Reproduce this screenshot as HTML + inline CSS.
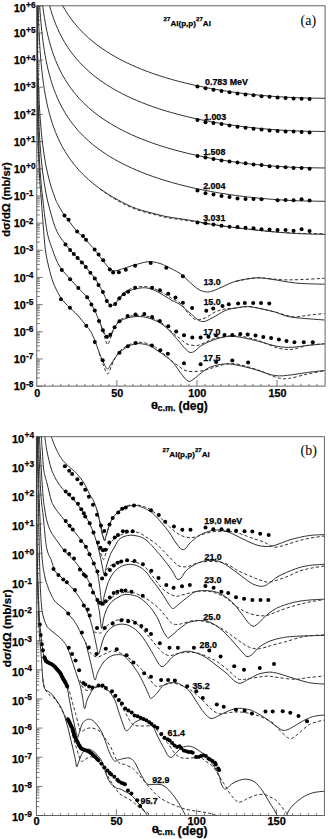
<!DOCTYPE html><html><head><meta charset="utf-8"><style>html,body{margin:0;padding:0;background:#fff;}svg{display:block;}</style></head><body>
<svg width="328" height="839" viewBox="0 0 328 839" font-family='"Liberation Sans", sans-serif'>
<style>text{stroke:#000;stroke-width:0.25px;paint-order:fill}</style>
<defs>
<clipPath id="ca"><rect x="36.8" y="5.8" width="288.3" height="380.3"/></clipPath>
<clipPath id="cb"><rect x="36.4" y="436.7" width="288.0" height="378.8"/></clipPath>
</defs>
<rect width="328" height="839" fill="#fff"/>
<rect x="36.8" y="5.8" width="288.30" height="380.30" fill="none" stroke="#555" stroke-width="0.9"/>
<path d="M36.80,5.80h6 M36.80,24.79h3 M36.80,20.00h3 M36.80,16.61h3 M36.80,13.98h3 M36.80,11.83h3 M36.80,10.01h3 M36.80,8.43h3 M36.80,7.04h3 M36.80,32.96h6 M36.80,51.95h3 M36.80,47.17h3 M36.80,43.77h3 M36.80,41.14h3 M36.80,38.99h3 M36.80,37.17h3 M36.80,35.60h3 M36.80,34.21h3 M36.80,60.13h6 M36.80,79.12h3 M36.80,74.33h3 M36.80,70.94h3 M36.80,68.31h3 M36.80,66.15h3 M36.80,64.34h3 M36.80,62.76h3 M36.80,61.37h3 M36.80,87.29h6 M36.80,106.28h3 M36.80,101.50h3 M36.80,98.10h3 M36.80,95.47h3 M36.80,93.32h3 M36.80,91.50h3 M36.80,89.93h3 M36.80,88.54h3 M36.80,114.46h6 M36.80,133.44h3 M36.80,128.66h3 M36.80,125.27h3 M36.80,122.63h3 M36.80,120.48h3 M36.80,118.66h3 M36.80,117.09h3 M36.80,115.70h3 M36.80,141.62h6 M36.80,160.61h3 M36.80,155.83h3 M36.80,152.43h3 M36.80,149.80h3 M36.80,147.65h3 M36.80,145.83h3 M36.80,144.25h3 M36.80,142.86h3 M36.80,168.79h6 M36.80,187.77h3 M36.80,182.99h3 M36.80,179.60h3 M36.80,176.96h3 M36.80,174.81h3 M36.80,172.99h3 M36.80,171.42h3 M36.80,170.03h3 M36.80,195.95h6 M36.80,214.94h3 M36.80,210.15h3 M36.80,206.76h3 M36.80,204.13h3 M36.80,201.98h3 M36.80,200.16h3 M36.80,198.58h3 M36.80,197.19h3 M36.80,223.11h6 M36.80,242.10h3 M36.80,237.32h3 M36.80,233.92h3 M36.80,231.29h3 M36.80,229.14h3 M36.80,227.32h3 M36.80,225.75h3 M36.80,224.36h3 M36.80,250.28h6 M36.80,269.27h3 M36.80,264.48h3 M36.80,261.09h3 M36.80,258.46h3 M36.80,256.30h3 M36.80,254.49h3 M36.80,252.91h3 M36.80,251.52h3 M36.80,277.44h6 M36.80,296.43h3 M36.80,291.65h3 M36.80,288.25h3 M36.80,285.62h3 M36.80,283.47h3 M36.80,281.65h3 M36.80,280.08h3 M36.80,278.69h3 M36.80,304.61h6 M36.80,323.59h3 M36.80,318.81h3 M36.80,315.42h3 M36.80,312.78h3 M36.80,310.63h3 M36.80,308.81h3 M36.80,307.24h3 M36.80,305.85h3 M36.80,331.77h6 M36.80,350.76h3 M36.80,345.98h3 M36.80,342.58h3 M36.80,339.95h3 M36.80,337.80h3 M36.80,335.98h3 M36.80,334.40h3 M36.80,333.01h3 M36.80,358.94h6 M36.80,377.92h3 M36.80,373.14h3 M36.80,369.75h3 M36.80,367.11h3 M36.80,364.96h3 M36.80,363.14h3 M36.80,361.57h3 M36.80,360.18h3 M36.80,386.10h6 M44.81,386.10v-2.3 M52.82,386.10v-2.3 M60.83,386.10v-2.3 M68.83,386.10v-2.3 M76.84,386.10v-2.3 M84.85,386.10v-2.3 M92.86,386.10v-2.3 M100.87,386.10v-2.3 M108.88,386.10v-2.3 M116.88,386.10v-6 M124.89,386.10v-2.3 M132.90,386.10v-2.3 M140.91,386.10v-2.3 M148.92,386.10v-2.3 M156.93,386.10v-2.3 M164.93,386.10v-2.3 M172.94,386.10v-2.3 M180.95,386.10v-2.3 M188.96,386.10v-2.3 M196.97,386.10v-6 M204.98,386.10v-2.3 M212.98,386.10v-2.3 M220.99,386.10v-2.3 M229.00,386.10v-2.3 M237.01,386.10v-2.3 M245.02,386.10v-2.3 M253.03,386.10v-2.3 M261.03,386.10v-2.3 M269.04,386.10v-2.3 M277.05,386.10v-6 M285.06,386.10v-2.3 M293.07,386.10v-2.3 M301.08,386.10v-2.3 M309.08,386.10v-2.3 M317.09,386.10v-2.3 " stroke="#555" stroke-width="0.8" fill="none"/>
<text x="25.80" y="11.90" text-anchor="end" font-size="10.9" font-weight="bold">10</text>
<text x="26.10" y="8.00" font-size="8.3" font-weight="bold">+6</text>
<text x="25.80" y="37.16" text-anchor="end" font-size="10.9" font-weight="bold">10</text>
<text x="26.10" y="33.46" font-size="8.3" font-weight="bold">+5</text>
<text x="25.80" y="64.33" text-anchor="end" font-size="10.9" font-weight="bold">10</text>
<text x="26.10" y="60.63" font-size="8.3" font-weight="bold">+4</text>
<text x="25.80" y="91.49" text-anchor="end" font-size="10.9" font-weight="bold">10</text>
<text x="26.10" y="87.79" font-size="8.3" font-weight="bold">+3</text>
<text x="25.80" y="118.66" text-anchor="end" font-size="10.9" font-weight="bold">10</text>
<text x="26.10" y="114.96" font-size="8.3" font-weight="bold">+2</text>
<text x="25.80" y="145.82" text-anchor="end" font-size="10.9" font-weight="bold">10</text>
<text x="26.10" y="142.12" font-size="8.3" font-weight="bold">+1</text>
<text x="25.80" y="172.99" text-anchor="end" font-size="10.9" font-weight="bold">10</text>
<text x="26.10" y="169.29" font-size="8.3" font-weight="bold">+0</text>
<text x="25.80" y="200.15" text-anchor="end" font-size="10.9" font-weight="bold">10</text>
<text x="26.10" y="196.45" font-size="8.3" font-weight="bold">-1</text>
<text x="25.80" y="227.31" text-anchor="end" font-size="10.9" font-weight="bold">10</text>
<text x="26.10" y="223.61" font-size="8.3" font-weight="bold">-2</text>
<text x="25.80" y="254.48" text-anchor="end" font-size="10.9" font-weight="bold">10</text>
<text x="26.10" y="250.78" font-size="8.3" font-weight="bold">-3</text>
<text x="25.80" y="281.64" text-anchor="end" font-size="10.9" font-weight="bold">10</text>
<text x="26.10" y="277.94" font-size="8.3" font-weight="bold">-4</text>
<text x="25.80" y="308.81" text-anchor="end" font-size="10.9" font-weight="bold">10</text>
<text x="26.10" y="305.11" font-size="8.3" font-weight="bold">-5</text>
<text x="25.80" y="335.97" text-anchor="end" font-size="10.9" font-weight="bold">10</text>
<text x="26.10" y="332.27" font-size="8.3" font-weight="bold">-6</text>
<text x="25.80" y="363.14" text-anchor="end" font-size="10.9" font-weight="bold">10</text>
<text x="26.10" y="359.44" font-size="8.3" font-weight="bold">-7</text>
<text x="25.80" y="390.30" text-anchor="end" font-size="10.9" font-weight="bold">10</text>
<text x="26.10" y="386.60" font-size="8.3" font-weight="bold">-8</text>
<text x="37.20" y="397.2" text-anchor="middle" font-size="10.8" font-weight="bold">0</text>
<text x="117.28" y="397.2" text-anchor="middle" font-size="10.8" font-weight="bold">50</text>
<text x="197.37" y="397.2" text-anchor="middle" font-size="10.8" font-weight="bold">100</text>
<text x="277.45" y="397.2" text-anchor="middle" font-size="10.8" font-weight="bold">150</text>
<text transform="translate(151.1,408.6) scale(1.38,1)" font-size="9.4" font-weight="bold">θ</text><text x="157.4" y="411.2" font-size="9" font-weight="bold">c.m.</text><text x="178.4" y="410.1" font-size="12" font-weight="bold">(deg)</text>
<text transform="translate(10.4,199.5) rotate(-90)" text-anchor="middle" font-size="11.2" font-weight="bold">dσ/dΩ (mb/sr)</text>
<text x="163.6" y="25.6" font-size="8.1" font-weight="bold"><tspan font-size="6.1" dy="-4.4">27</tspan><tspan dy="4.4">Al(p,p)</tspan><tspan font-size="6.1" dy="-4.4">27</tspan><tspan dy="4.4">Al</tspan></text>
<text x="300.5" y="24.6" font-family='"Liberation Serif", serif' font-size="14" style="stroke:none">(a)</text>
<path d="M36.83,-310.05 C36.83,-309.25 36.83,-306.86 36.84,-305.27 C36.84,-303.68 36.84,-302.09 36.84,-300.50 C36.84,-298.91 36.84,-297.32 36.84,-295.72 C36.84,-294.13 36.85,-292.54 36.85,-290.95 C36.85,-289.36 36.85,-287.77 36.85,-286.18 C36.85,-284.59 36.86,-282.99 36.86,-281.40 C36.86,-279.81 36.86,-278.22 36.87,-276.63 C36.87,-275.04 36.87,-273.45 36.87,-271.86 C36.87,-270.26 36.88,-268.67 36.88,-267.08 C36.88,-265.49 36.89,-263.90 36.89,-262.31 C36.89,-260.72 36.89,-259.12 36.90,-257.53 C36.90,-255.94 36.90,-254.35 36.91,-252.76 C36.91,-251.17 36.92,-249.58 36.92,-247.99 C36.92,-246.39 36.93,-244.80 36.93,-243.21 C36.94,-241.62 36.94,-240.03 36.95,-238.44 C36.95,-236.85 36.96,-235.25 36.96,-233.66 C36.97,-232.07 36.97,-230.48 36.98,-228.89 C36.98,-227.30 36.99,-225.71 37.00,-224.12 C37.00,-222.52 37.01,-220.93 37.02,-219.34 C37.03,-217.75 37.03,-216.16 37.04,-214.57 C37.05,-212.98 37.06,-211.38 37.07,-209.79 C37.08,-208.20 37.09,-206.61 37.10,-205.02 C37.11,-203.43 37.12,-201.84 37.13,-200.25 C37.14,-198.65 37.15,-197.06 37.16,-195.47 C37.18,-193.88 37.19,-192.29 37.20,-190.70 C37.22,-189.11 37.23,-187.52 37.24,-185.92 C37.26,-184.33 37.28,-182.74 37.29,-181.15 C37.31,-179.56 37.33,-177.97 37.34,-176.38 C37.36,-174.78 37.38,-173.19 37.40,-171.60 C37.42,-170.01 37.44,-168.42 37.47,-166.83 C37.49,-165.24 37.51,-163.65 37.54,-162.05 C37.56,-160.46 37.59,-158.87 37.62,-157.28 C37.64,-155.69 37.67,-154.10 37.70,-152.51 C37.73,-150.91 37.76,-149.32 37.80,-147.73 C37.83,-146.14 37.87,-144.55 37.91,-142.96 C37.94,-141.37 37.98,-139.78 38.02,-138.18 C38.06,-136.59 38.11,-135.00 38.15,-133.41 C38.20,-131.82 38.25,-130.23 38.30,-128.64 C38.35,-127.05 38.40,-125.45 38.46,-123.86 C38.51,-122.27 38.57,-120.68 38.63,-119.09 C38.69,-117.50 38.76,-115.91 38.83,-114.32 C38.90,-112.72 38.97,-111.13 39.04,-109.54 C39.12,-107.95 39.20,-106.36 39.28,-104.77 C39.37,-103.18 39.45,-101.59 39.55,-99.99 C39.64,-98.40 39.74,-96.81 39.84,-95.22 C39.94,-93.63 40.05,-92.04 40.16,-90.45 C40.28,-88.86 40.39,-87.26 40.52,-85.67 C40.65,-84.08 40.78,-82.49 40.92,-80.90 C41.06,-79.31 41.20,-77.72 41.35,-76.13 C41.51,-74.54 41.67,-72.95 41.84,-71.35 C42.01,-69.76 42.19,-68.17 42.38,-66.58 C42.56,-64.99 42.76,-63.40 42.97,-61.81 C43.18,-60.22 43.40,-58.63 43.63,-57.04 C43.86,-55.45 44.10,-53.86 44.35,-52.27 C44.61,-50.68 44.88,-49.09 45.16,-47.50 C45.44,-45.90 45.74,-44.31 46.05,-42.72 C46.36,-41.13 46.69,-39.55 47.03,-37.96 C47.38,-36.37 47.74,-34.78 48.12,-33.19 C48.50,-31.60 48.90,-30.01 49.33,-28.42 C49.75,-26.83 50.19,-25.24 50.66,-23.65 C51.13,-22.07 51.62,-20.48 52.14,-18.89 C52.65,-17.30 53.20,-15.72 53.77,-14.13 C54.34,-12.54 54.94,-10.96 55.57,-9.37 C56.21,-7.78 56.87,-6.20 57.57,-4.61 C58.28,-3.03 59.01,-1.45 59.78,0.14 C60.56,1.72 61.37,3.30 62.23,4.88 C63.09,6.46 63.99,8.04 64.94,9.62 C65.89,11.20 66.88,12.78 67.94,14.36 C68.99,15.93 70.09,17.51 71.25,19.08 C72.41,20.65 73.63,22.22 74.92,23.79 C76.21,25.36 77.55,26.93 78.98,28.49 C80.40,30.05 81.89,31.61 83.47,33.17 C85.04,34.73 86.69,36.28 88.43,37.83 C90.18,39.38 92.00,40.92 93.93,42.46 C95.86,44.00 97.88,45.54 100.01,47.06 C102.15,48.59 104.38,50.11 106.74,51.63 C109.10,53.14 111.57,54.65 114.19,56.14 C116.80,57.64 119.53,59.12 122.43,60.60 C125.32,62.07 128.34,63.54 131.54,64.98 C134.74,66.43 138.09,67.86 141.63,69.28 C145.17,70.69 148.87,72.09 152.79,73.46 C156.71,74.83 160.80,76.19 165.14,77.51 C169.47,78.83 174.00,80.13 178.80,81.39 C183.60,82.64 188.61,83.88 193.92,85.05 C199.23,86.23 204.77,87.38 210.65,88.46 C216.52,89.54 222.66,90.58 229.15,91.54 C235.65,92.49 242.44,93.40 249.63,94.19 C256.82,94.99 264.34,95.72 272.29,96.32 C280.24,96.91 288.56,97.43 297.36,97.76 C306.16,98.09 320.48,98.21 325.10,98.30" fill="none" stroke="#303030" stroke-width="1.0" clip-path="url(#ca)"/>
<path d="M36.83,-276.85 C36.83,-276.05 36.83,-273.66 36.84,-272.07 C36.84,-270.48 36.84,-268.89 36.84,-267.30 C36.84,-265.71 36.84,-264.12 36.84,-262.52 C36.84,-260.93 36.85,-259.34 36.85,-257.75 C36.85,-256.16 36.85,-254.57 36.85,-252.98 C36.85,-251.39 36.86,-249.79 36.86,-248.20 C36.86,-246.61 36.86,-245.02 36.87,-243.43 C36.87,-241.84 36.87,-240.25 36.87,-238.66 C36.87,-237.06 36.88,-235.47 36.88,-233.88 C36.88,-232.29 36.89,-230.70 36.89,-229.11 C36.89,-227.52 36.89,-225.92 36.90,-224.33 C36.90,-222.74 36.90,-221.15 36.91,-219.56 C36.91,-217.97 36.92,-216.38 36.92,-214.79 C36.92,-213.19 36.93,-211.60 36.93,-210.01 C36.94,-208.42 36.94,-206.83 36.95,-205.24 C36.95,-203.65 36.96,-202.05 36.96,-200.46 C36.97,-198.87 36.97,-197.28 36.98,-195.69 C36.98,-194.10 36.99,-192.51 37.00,-190.92 C37.00,-189.32 37.01,-187.73 37.02,-186.14 C37.03,-184.55 37.03,-182.96 37.04,-181.37 C37.05,-179.78 37.06,-178.18 37.07,-176.59 C37.08,-175.00 37.09,-173.41 37.10,-171.82 C37.11,-170.23 37.12,-168.64 37.13,-167.05 C37.14,-165.45 37.15,-163.86 37.16,-162.27 C37.18,-160.68 37.19,-159.09 37.20,-157.50 C37.22,-155.91 37.23,-154.32 37.24,-152.72 C37.26,-151.13 37.28,-149.54 37.29,-147.95 C37.31,-146.36 37.33,-144.77 37.34,-143.18 C37.36,-141.58 37.38,-139.99 37.40,-138.40 C37.42,-136.81 37.44,-135.22 37.47,-133.63 C37.49,-132.04 37.51,-130.45 37.54,-128.85 C37.56,-127.26 37.59,-125.67 37.62,-124.08 C37.64,-122.49 37.67,-120.90 37.70,-119.31 C37.73,-117.71 37.76,-116.12 37.80,-114.53 C37.83,-112.94 37.87,-111.35 37.91,-109.76 C37.94,-108.17 37.98,-106.58 38.02,-104.98 C38.06,-103.39 38.11,-101.80 38.15,-100.21 C38.20,-98.62 38.25,-97.03 38.30,-95.44 C38.35,-93.85 38.40,-92.25 38.46,-90.66 C38.51,-89.07 38.57,-87.48 38.63,-85.89 C38.69,-84.30 38.76,-82.71 38.83,-81.12 C38.90,-79.52 38.97,-77.93 39.04,-76.34 C39.12,-74.75 39.20,-73.16 39.28,-71.57 C39.37,-69.98 39.45,-68.39 39.55,-66.79 C39.64,-65.20 39.74,-63.61 39.84,-62.02 C39.94,-60.43 40.05,-58.84 40.16,-57.25 C40.28,-55.66 40.39,-54.06 40.52,-52.47 C40.65,-50.88 40.78,-49.29 40.92,-47.70 C41.06,-46.11 41.20,-44.52 41.35,-42.93 C41.51,-41.34 41.67,-39.75 41.84,-38.15 C42.01,-36.56 42.19,-34.97 42.38,-33.38 C42.56,-31.79 42.76,-30.20 42.97,-28.61 C43.18,-27.02 43.40,-25.43 43.63,-23.84 C43.86,-22.25 44.10,-20.66 44.35,-19.07 C44.61,-17.48 44.88,-15.89 45.16,-14.30 C45.44,-12.70 45.74,-11.11 46.05,-9.52 C46.36,-7.93 46.69,-6.35 47.03,-4.76 C47.38,-3.17 47.74,-1.58 48.12,0.01 C48.50,1.60 48.90,3.19 49.33,4.78 C49.75,6.37 50.19,7.96 50.66,9.55 C51.13,11.13 51.62,12.72 52.14,14.31 C52.65,15.90 53.20,17.48 53.77,19.07 C54.34,20.66 54.94,22.24 55.57,23.83 C56.21,25.42 56.87,27.00 57.57,28.59 C58.28,30.17 59.01,31.75 59.78,33.34 C60.56,34.92 61.37,36.50 62.23,38.08 C63.09,39.66 63.99,41.24 64.94,42.82 C65.89,44.40 66.88,45.98 67.94,47.56 C68.99,49.13 70.09,50.71 71.25,52.28 C72.41,53.85 73.63,55.42 74.92,56.99 C76.21,58.56 77.55,60.13 78.98,61.69 C80.40,63.25 81.89,64.81 83.47,66.37 C85.04,67.93 86.69,69.48 88.43,71.03 C90.18,72.58 92.00,74.12 93.93,75.66 C95.86,77.20 97.88,78.74 100.01,80.26 C102.15,81.79 104.38,83.31 106.74,84.83 C109.10,86.34 111.57,87.85 114.19,89.34 C116.80,90.84 119.53,92.32 122.43,93.80 C125.32,95.27 128.34,96.74 131.54,98.18 C134.74,99.63 138.09,101.06 141.63,102.48 C145.17,103.89 148.87,105.29 152.79,106.66 C156.71,108.03 160.80,109.39 165.14,110.71 C169.47,112.03 174.00,113.33 178.80,114.59 C183.60,115.84 188.61,117.08 193.92,118.25 C199.23,119.43 204.77,120.58 210.65,121.66 C216.52,122.74 222.66,123.78 229.15,124.74 C235.65,125.69 242.44,126.60 249.63,127.39 C256.82,128.19 264.34,128.92 272.29,129.52 C280.24,130.11 288.56,130.63 297.36,130.96 C306.16,131.29 320.48,131.41 325.10,131.50" fill="none" stroke="#303030" stroke-width="1.0" clip-path="url(#ca)"/>
<path d="M36.83,-240.35 C36.83,-239.55 36.83,-237.16 36.84,-235.57 C36.84,-233.98 36.84,-232.39 36.84,-230.80 C36.84,-229.21 36.84,-227.62 36.84,-226.02 C36.84,-224.43 36.85,-222.84 36.85,-221.25 C36.85,-219.66 36.85,-218.07 36.85,-216.48 C36.85,-214.89 36.86,-213.29 36.86,-211.70 C36.86,-210.11 36.86,-208.52 36.87,-206.93 C36.87,-205.34 36.87,-203.75 36.87,-202.16 C36.87,-200.56 36.88,-198.97 36.88,-197.38 C36.88,-195.79 36.89,-194.20 36.89,-192.61 C36.89,-191.02 36.89,-189.42 36.90,-187.83 C36.90,-186.24 36.90,-184.65 36.91,-183.06 C36.91,-181.47 36.92,-179.88 36.92,-178.29 C36.92,-176.69 36.93,-175.10 36.93,-173.51 C36.94,-171.92 36.94,-170.33 36.95,-168.74 C36.95,-167.15 36.96,-165.55 36.96,-163.96 C36.97,-162.37 36.97,-160.78 36.98,-159.19 C36.98,-157.60 36.99,-156.01 37.00,-154.42 C37.00,-152.82 37.01,-151.23 37.02,-149.64 C37.03,-148.05 37.03,-146.46 37.04,-144.87 C37.05,-143.28 37.06,-141.68 37.07,-140.09 C37.08,-138.50 37.09,-136.91 37.10,-135.32 C37.11,-133.73 37.12,-132.14 37.13,-130.55 C37.14,-128.95 37.15,-127.36 37.16,-125.77 C37.18,-124.18 37.19,-122.59 37.20,-121.00 C37.22,-119.41 37.23,-117.82 37.24,-116.22 C37.26,-114.63 37.28,-113.04 37.29,-111.45 C37.31,-109.86 37.33,-108.27 37.34,-106.68 C37.36,-105.08 37.38,-103.49 37.40,-101.90 C37.42,-100.31 37.44,-98.72 37.47,-97.13 C37.49,-95.54 37.51,-93.95 37.54,-92.35 C37.56,-90.76 37.59,-89.17 37.62,-87.58 C37.64,-85.99 37.67,-84.40 37.70,-82.81 C37.73,-81.21 37.76,-79.62 37.80,-78.03 C37.83,-76.44 37.87,-74.85 37.91,-73.26 C37.94,-71.67 37.98,-70.08 38.02,-68.48 C38.06,-66.89 38.11,-65.30 38.15,-63.71 C38.20,-62.12 38.25,-60.53 38.30,-58.94 C38.35,-57.35 38.40,-55.75 38.46,-54.16 C38.51,-52.57 38.57,-50.98 38.63,-49.39 C38.69,-47.80 38.76,-46.21 38.83,-44.62 C38.90,-43.02 38.97,-41.43 39.04,-39.84 C39.12,-38.25 39.20,-36.66 39.28,-35.07 C39.37,-33.48 39.45,-31.89 39.55,-30.29 C39.64,-28.70 39.74,-27.11 39.84,-25.52 C39.94,-23.93 40.05,-22.34 40.16,-20.75 C40.28,-19.16 40.39,-17.56 40.52,-15.97 C40.65,-14.38 40.78,-12.79 40.92,-11.20 C41.06,-9.61 41.20,-8.02 41.35,-6.43 C41.51,-4.84 41.67,-3.25 41.84,-1.65 C42.01,-0.06 42.19,1.53 42.38,3.12 C42.56,4.71 42.76,6.30 42.97,7.89 C43.18,9.48 43.40,11.07 43.63,12.66 C43.86,14.25 44.10,15.84 44.35,17.43 C44.61,19.02 44.88,20.61 45.16,22.20 C45.44,23.80 45.74,25.39 46.05,26.98 C46.36,28.57 46.69,30.15 47.03,31.74 C47.38,33.33 47.74,34.92 48.12,36.51 C48.50,38.10 48.90,39.69 49.33,41.28 C49.75,42.87 50.19,44.46 50.66,46.05 C51.13,47.63 51.62,49.22 52.14,50.81 C52.65,52.40 53.20,53.98 53.77,55.57 C54.34,57.16 54.94,58.74 55.57,60.33 C56.21,61.92 56.87,63.50 57.57,65.09 C58.28,66.67 59.01,68.25 59.78,69.84 C60.56,71.42 61.37,73.00 62.23,74.58 C63.09,76.16 63.99,77.74 64.94,79.32 C65.89,80.90 66.88,82.48 67.94,84.06 C68.99,85.63 70.09,87.21 71.25,88.78 C72.41,90.35 73.63,91.92 74.92,93.49 C76.21,95.06 77.55,96.63 78.98,98.19 C80.40,99.75 81.89,101.31 83.47,102.87 C85.04,104.43 86.69,105.98 88.43,107.53 C90.18,109.08 92.00,110.62 93.93,112.16 C95.86,113.70 97.88,115.24 100.01,116.76 C102.15,118.29 104.38,119.81 106.74,121.33 C109.10,122.84 111.57,124.35 114.19,125.84 C116.80,127.34 119.53,128.82 122.43,130.30 C125.32,131.77 128.34,133.24 131.54,134.68 C134.74,136.13 138.09,137.56 141.63,138.98 C145.17,140.39 148.87,141.79 152.79,143.16 C156.71,144.53 160.80,145.89 165.14,147.21 C169.47,148.53 174.00,149.83 178.80,151.09 C183.60,152.34 188.61,153.58 193.92,154.75 C199.23,155.93 204.77,157.08 210.65,158.16 C216.52,159.24 222.66,160.28 229.15,161.24 C235.65,162.19 242.44,163.10 249.63,163.89 C256.82,164.69 264.34,165.42 272.29,166.02 C280.24,166.61 288.56,167.13 297.36,167.46 C306.16,167.79 320.48,167.91 325.10,168.00" fill="none" stroke="#303030" stroke-width="1.0" clip-path="url(#ca)"/>
<path d="M36.83,-207.05 C36.83,-206.25 36.83,-203.86 36.84,-202.27 C36.84,-200.68 36.84,-199.09 36.84,-197.50 C36.84,-195.91 36.84,-194.32 36.84,-192.72 C36.84,-191.13 36.85,-189.54 36.85,-187.95 C36.85,-186.36 36.85,-184.77 36.85,-183.18 C36.85,-181.59 36.86,-179.99 36.86,-178.40 C36.86,-176.81 36.86,-175.22 36.87,-173.63 C36.87,-172.04 36.87,-170.45 36.87,-168.86 C36.87,-167.26 36.88,-165.67 36.88,-164.08 C36.88,-162.49 36.89,-160.90 36.89,-159.31 C36.89,-157.72 36.89,-156.12 36.90,-154.53 C36.90,-152.94 36.90,-151.35 36.91,-149.76 C36.91,-148.17 36.92,-146.58 36.92,-144.99 C36.92,-143.39 36.93,-141.80 36.93,-140.21 C36.94,-138.62 36.94,-137.03 36.95,-135.44 C36.95,-133.85 36.96,-132.25 36.96,-130.66 C36.97,-129.07 36.97,-127.48 36.98,-125.89 C36.98,-124.30 36.99,-122.71 37.00,-121.12 C37.00,-119.52 37.01,-117.93 37.02,-116.34 C37.03,-114.75 37.03,-113.16 37.04,-111.57 C37.05,-109.98 37.06,-108.38 37.07,-106.79 C37.08,-105.20 37.09,-103.61 37.10,-102.02 C37.11,-100.43 37.12,-98.84 37.13,-97.25 C37.14,-95.65 37.15,-94.06 37.16,-92.47 C37.18,-90.88 37.19,-89.29 37.20,-87.70 C37.22,-86.11 37.23,-84.52 37.24,-82.92 C37.26,-81.33 37.28,-79.74 37.29,-78.15 C37.31,-76.56 37.33,-74.97 37.34,-73.38 C37.36,-71.78 37.38,-70.19 37.40,-68.60 C37.42,-67.01 37.44,-65.42 37.47,-63.83 C37.49,-62.24 37.51,-60.65 37.54,-59.05 C37.56,-57.46 37.59,-55.87 37.62,-54.28 C37.64,-52.69 37.67,-51.10 37.70,-49.51 C37.73,-47.91 37.76,-46.32 37.80,-44.73 C37.83,-43.14 37.87,-41.55 37.91,-39.96 C37.94,-38.37 37.98,-36.78 38.02,-35.18 C38.06,-33.59 38.11,-32.00 38.15,-30.41 C38.20,-28.82 38.25,-27.23 38.30,-25.64 C38.35,-24.05 38.40,-22.45 38.46,-20.86 C38.51,-19.27 38.57,-17.68 38.63,-16.09 C38.69,-14.50 38.76,-12.91 38.83,-11.32 C38.90,-9.72 38.97,-8.13 39.04,-6.54 C39.12,-4.95 39.20,-3.36 39.28,-1.77 C39.37,-0.18 39.45,1.41 39.55,3.01 C39.64,4.60 39.74,6.19 39.84,7.78 C39.94,9.37 40.05,10.96 40.16,12.55 C40.28,14.14 40.39,15.74 40.52,17.33 C40.65,18.92 40.78,20.51 40.92,22.10 C41.06,23.69 41.20,25.28 41.35,26.87 C41.51,28.46 41.67,30.05 41.84,31.65 C42.01,33.24 42.19,34.83 42.38,36.42 C42.56,38.01 42.76,39.60 42.97,41.19 C43.18,42.78 43.40,44.37 43.63,45.96 C43.86,47.55 44.10,49.14 44.35,50.73 C44.61,52.32 44.88,53.91 45.16,55.50 C45.44,57.10 45.74,58.69 46.05,60.28 C46.36,61.87 46.69,63.45 47.03,65.04 C47.38,66.63 47.74,68.22 48.12,69.81 C48.50,71.40 48.90,72.99 49.33,74.58 C49.75,76.17 50.19,77.76 50.66,79.35 C51.13,80.93 51.62,82.52 52.14,84.11 C52.65,85.70 53.20,87.28 53.77,88.87 C54.34,90.46 54.94,92.04 55.57,93.63 C56.21,95.22 56.87,96.80 57.57,98.39 C58.28,99.97 59.01,101.55 59.78,103.14 C60.56,104.72 61.37,106.30 62.23,107.88 C63.09,109.46 63.99,111.04 64.94,112.62 C65.89,114.20 66.88,115.78 67.94,117.36 C68.99,118.93 70.09,120.51 71.25,122.08 C72.41,123.65 73.63,125.22 74.92,126.79 C76.21,128.36 77.55,129.93 78.98,131.49 C80.40,133.05 81.89,134.61 83.47,136.17 C85.04,137.73 86.69,139.28 88.43,140.83 C90.18,142.38 92.00,143.92 93.93,145.46 C95.86,147.00 97.88,148.54 100.01,150.06 C102.15,151.59 104.38,153.11 106.74,154.63 C109.10,156.14 111.57,157.65 114.19,159.14 C116.80,160.64 119.53,162.12 122.43,163.60 C125.32,165.07 128.34,166.54 131.54,167.98 C134.74,169.43 138.09,170.86 141.63,172.28 C145.17,173.69 148.87,175.09 152.79,176.46 C156.71,177.83 160.80,179.19 165.14,180.51 C169.47,181.83 174.00,183.13 178.80,184.39 C183.60,185.64 188.61,186.88 193.92,188.05 C199.23,189.23 204.77,190.38 210.65,191.46 C216.52,192.54 222.66,193.58 229.15,194.54 C235.65,195.49 242.44,196.40 249.63,197.19 C256.82,197.99 264.34,198.72 272.29,199.32 C280.24,199.91 288.56,200.43 297.36,200.76 C306.16,201.09 320.48,201.21 325.10,201.30" fill="none" stroke="#303030" stroke-width="1.0" clip-path="url(#ca)"/>
<path d="M36.83,-168.35 C36.83,-167.55 36.83,-165.16 36.84,-163.57 C36.84,-161.98 36.84,-160.39 36.84,-158.80 C36.84,-157.21 36.84,-155.62 36.84,-154.02 C36.84,-152.43 36.85,-150.84 36.85,-149.25 C36.85,-147.66 36.85,-146.07 36.85,-144.48 C36.85,-142.89 36.86,-141.29 36.86,-139.70 C36.86,-138.11 36.86,-136.52 36.87,-134.93 C36.87,-133.34 36.87,-131.75 36.87,-130.16 C36.87,-128.56 36.88,-126.97 36.88,-125.38 C36.88,-123.79 36.89,-122.20 36.89,-120.61 C36.89,-119.02 36.89,-117.42 36.90,-115.83 C36.90,-114.24 36.90,-112.65 36.91,-111.06 C36.91,-109.47 36.92,-107.88 36.92,-106.29 C36.92,-104.69 36.93,-103.10 36.93,-101.51 C36.94,-99.92 36.94,-98.33 36.95,-96.74 C36.95,-95.15 36.96,-93.55 36.96,-91.96 C36.97,-90.37 36.97,-88.78 36.98,-87.19 C36.98,-85.60 36.99,-84.01 37.00,-82.42 C37.00,-80.82 37.01,-79.23 37.02,-77.64 C37.03,-76.05 37.03,-74.46 37.04,-72.87 C37.05,-71.28 37.06,-69.68 37.07,-68.09 C37.08,-66.50 37.09,-64.91 37.10,-63.32 C37.11,-61.73 37.12,-60.14 37.13,-58.55 C37.14,-56.95 37.15,-55.36 37.16,-53.77 C37.18,-52.18 37.19,-50.59 37.20,-49.00 C37.22,-47.41 37.23,-45.82 37.24,-44.22 C37.26,-42.63 37.28,-41.04 37.29,-39.45 C37.31,-37.86 37.33,-36.27 37.34,-34.68 C37.36,-33.08 37.38,-31.49 37.40,-29.90 C37.42,-28.31 37.44,-26.72 37.47,-25.13 C37.49,-23.54 37.51,-21.95 37.54,-20.35 C37.56,-18.76 37.59,-17.17 37.62,-15.58 C37.64,-13.99 37.67,-12.40 37.70,-10.81 C37.73,-9.21 37.76,-7.62 37.80,-6.03 C37.83,-4.44 37.87,-2.85 37.91,-1.26 C37.94,0.33 37.98,1.92 38.02,3.52 C38.06,5.11 38.11,6.70 38.15,8.29 C38.20,9.88 38.25,11.47 38.30,13.06 C38.35,14.65 38.40,16.25 38.46,17.84 C38.51,19.43 38.57,21.02 38.63,22.61 C38.69,24.20 38.76,25.79 38.83,27.38 C38.90,28.98 38.97,30.57 39.04,32.16 C39.12,33.75 39.20,35.34 39.28,36.93 C39.37,38.52 39.45,40.11 39.55,41.71 C39.64,43.30 39.74,44.89 39.84,46.48 C39.94,48.07 40.05,49.66 40.16,51.25 C40.28,52.84 40.39,54.44 40.52,56.03 C40.65,57.62 40.78,59.21 40.92,60.80 C41.06,62.39 41.20,63.98 41.35,65.57 C41.51,67.16 41.67,68.75 41.84,70.35 C42.01,71.94 42.19,73.53 42.38,75.12 C42.56,76.71 42.76,78.30 42.97,79.89 C43.18,81.48 43.40,83.07 43.63,84.66 C43.86,86.25 44.10,87.84 44.35,89.43 C44.61,91.02 44.88,92.61 45.16,94.20 C45.44,95.80 45.74,97.39 46.05,98.98 C46.36,100.57 46.69,102.15 47.03,103.74 C47.38,105.33 47.74,106.92 48.12,108.51 C48.50,110.10 48.90,111.69 49.33,113.28 C49.75,114.87 50.19,116.46 50.66,118.05 C51.13,119.63 51.62,121.22 52.14,122.81 C52.65,124.40 53.20,125.98 53.77,127.57 C54.34,129.16 54.94,130.74 55.57,132.33 C56.21,133.92 56.87,135.50 57.57,137.09 C58.28,138.67 59.01,140.25 59.78,141.84 C60.56,143.42 61.37,145.00 62.23,146.58 C63.09,148.16 63.99,149.74 64.94,151.32 C65.89,152.90 66.88,154.48 67.94,156.06 C68.99,157.63 70.09,159.21 71.25,160.78 C72.41,162.35 73.63,163.92 74.92,165.49 C76.21,167.06 77.55,168.63 78.98,170.19 C80.40,171.75 81.89,173.31 83.47,174.87 C85.04,176.43 86.69,177.98 88.43,179.53 C90.18,181.08 92.00,182.62 93.93,184.16 C95.86,185.70 97.88,187.24 100.01,188.76 C102.15,190.29 104.38,191.81 106.74,193.33 C109.10,194.84 111.57,196.35 114.19,197.84 C116.80,199.34 119.53,200.82 122.43,202.30 C125.32,203.77 128.34,205.35 131.54,206.68 C134.74,208.02 138.09,209.21 141.63,210.30 C145.17,211.39 148.87,212.22 152.79,213.23 C156.71,214.24 160.80,215.47 165.14,216.36 C169.47,217.24 174.00,217.78 178.80,218.54 C183.60,219.29 188.61,219.97 193.92,220.89 C199.23,221.80 204.77,223.06 210.65,224.04 C216.52,225.03 222.66,225.91 229.15,226.79 C235.65,227.66 242.44,228.49 249.63,229.30 C256.82,230.12 264.34,230.97 272.29,231.69 C280.24,232.40 288.56,233.13 297.36,233.58 C306.16,234.03 320.48,234.26 325.10,234.40" fill="none" stroke="#303030" stroke-width="1.0" clip-path="url(#ca)"/>
<path d="M100.01,189.03 C101.13,189.83 104.38,192.25 106.74,193.85 C109.10,195.45 111.57,197.08 114.19,198.64 C116.80,200.20 119.53,201.71 122.43,203.20 C125.32,204.69 128.34,206.25 131.54,207.58 C134.74,208.92 138.09,210.11 141.63,211.20 C145.17,212.29 148.87,213.12 152.79,214.13 C156.71,215.14 160.80,216.37 165.14,217.26 C169.47,218.14 174.00,218.72 178.80,219.44 C183.60,220.16 188.61,220.73 193.92,221.56 C199.23,222.39 204.77,223.52 210.65,224.42 C216.52,225.32 222.66,226.13 229.15,226.96 C235.65,227.79 242.44,228.61 249.63,229.40 C256.82,230.19 264.34,231.06 272.29,231.70 C280.24,232.35 288.56,232.95 297.36,233.29 C306.16,233.62 320.48,233.63 325.10,233.70" fill="none" stroke="#303030" stroke-width="1.0" stroke-dasharray="3.2,2.2" clip-path="url(#ca)"/>
<circle cx="197.47" cy="86.52" r="2.0"/>
<circle cx="205.48" cy="88.18" r="2.0"/>
<circle cx="213.48" cy="89.69" r="2.0"/>
<circle cx="221.49" cy="91.06" r="2.0"/>
<circle cx="229.50" cy="92.31" r="2.0"/>
<circle cx="237.51" cy="93.44" r="2.0"/>
<circle cx="245.52" cy="94.46" r="2.0"/>
<circle cx="253.53" cy="95.36" r="2.0"/>
<circle cx="261.53" cy="96.16" r="2.0"/>
<circle cx="269.54" cy="96.86" r="2.0"/>
<circle cx="277.55" cy="97.46" r="2.0"/>
<circle cx="285.56" cy="97.97" r="2.0"/>
<circle cx="293.57" cy="98.38" r="2.0"/>
<circle cx="301.58" cy="98.69" r="2.0"/>
<circle cx="309.58" cy="98.92" r="2.0"/>
<circle cx="197.47" cy="120.00" r="2.0"/>
<circle cx="205.48" cy="122.30" r="2.0"/>
<circle cx="213.48" cy="122.90" r="2.0"/>
<circle cx="221.49" cy="123.90" r="2.0"/>
<circle cx="229.50" cy="125.50" r="2.0"/>
<circle cx="237.51" cy="126.80" r="2.0"/>
<circle cx="245.52" cy="127.80" r="2.0"/>
<circle cx="253.53" cy="128.80" r="2.0"/>
<circle cx="261.53" cy="129.60" r="2.0"/>
<circle cx="269.54" cy="130.40" r="2.0"/>
<circle cx="277.55" cy="131.00" r="2.0"/>
<circle cx="285.56" cy="131.50" r="2.0"/>
<circle cx="293.57" cy="131.50" r="2.0"/>
<circle cx="301.58" cy="132.00" r="2.0"/>
<circle cx="309.58" cy="132.40" r="2.0"/>
<circle cx="197.47" cy="156.10" r="2.0"/>
<circle cx="205.48" cy="157.50" r="2.0"/>
<circle cx="213.48" cy="159.00" r="2.0"/>
<circle cx="221.49" cy="160.60" r="2.0"/>
<circle cx="229.50" cy="161.60" r="2.0"/>
<circle cx="237.51" cy="162.50" r="2.0"/>
<circle cx="245.52" cy="163.30" r="2.0"/>
<circle cx="253.53" cy="164.60" r="2.0"/>
<circle cx="261.53" cy="165.10" r="2.0"/>
<circle cx="269.54" cy="166.30" r="2.0"/>
<circle cx="277.55" cy="167.00" r="2.0"/>
<circle cx="285.56" cy="167.30" r="2.0"/>
<circle cx="293.57" cy="168.00" r="2.0"/>
<circle cx="301.58" cy="168.00" r="2.0"/>
<circle cx="309.58" cy="168.80" r="2.0"/>
<circle cx="197.47" cy="190.60" r="2.0"/>
<circle cx="205.48" cy="193.20" r="2.0"/>
<circle cx="213.48" cy="194.50" r="2.0"/>
<circle cx="221.49" cy="196.10" r="2.0"/>
<circle cx="229.50" cy="197.10" r="2.0"/>
<circle cx="237.51" cy="198.40" r="2.0"/>
<circle cx="245.52" cy="199.00" r="2.0"/>
<circle cx="253.53" cy="199.00" r="2.0"/>
<circle cx="261.53" cy="199.30" r="2.0"/>
<circle cx="277.55" cy="200.20" r="2.0"/>
<circle cx="285.56" cy="200.00" r="2.0"/>
<circle cx="293.57" cy="200.20" r="2.0"/>
<circle cx="301.58" cy="199.30" r="2.0"/>
<circle cx="309.58" cy="200.50" r="2.0"/>
<circle cx="197.47" cy="222.40" r="2.0"/>
<circle cx="205.48" cy="223.20" r="2.0"/>
<circle cx="213.48" cy="224.40" r="2.0"/>
<circle cx="221.49" cy="225.80" r="2.0"/>
<circle cx="229.50" cy="226.70" r="2.0"/>
<circle cx="237.51" cy="227.10" r="2.0"/>
<circle cx="245.52" cy="227.70" r="2.0"/>
<circle cx="253.53" cy="228.30" r="2.0"/>
<circle cx="261.53" cy="229.30" r="2.0"/>
<circle cx="269.54" cy="229.50" r="2.0"/>
<circle cx="277.55" cy="230.00" r="2.0"/>
<circle cx="285.56" cy="230.00" r="2.0"/>
<circle cx="293.57" cy="230.70" r="2.0"/>
<circle cx="301.58" cy="229.30" r="2.0"/>
<circle cx="309.58" cy="231.00" r="2.0"/>
<path d="M37.10,3.80 C37.11,6.14 37.16,13.15 37.20,17.82 C37.24,22.49 37.28,27.17 37.34,31.84 C37.39,36.51 37.45,41.19 37.52,45.86 C37.60,50.53 37.68,55.21 37.77,59.88 C37.87,64.55 37.98,69.23 38.11,73.90 C38.24,78.57 38.39,83.25 38.56,87.92 C38.74,92.59 38.94,97.27 39.17,101.94 C39.41,106.61 39.67,111.29 40.00,115.96 C40.32,120.63 40.67,125.31 41.10,129.98 C41.53,134.65 42.01,139.32 42.59,144.00 C43.17,148.67 43.81,153.34 44.59,158.01 C45.38,162.68 46.23,167.35 47.29,172.02 C48.34,176.69 49.50,181.35 50.92,186.02 C52.33,190.68 54.62,196.92 55.80,200.00 C56.98,203.08 56.60,201.97 58.00,204.50 C59.40,207.03 62.45,212.53 64.20,215.20 C65.95,217.87 66.37,217.80 68.50,220.50 C70.63,223.20 74.58,228.72 77.00,231.40 C79.42,234.08 81.50,235.17 83.00,236.60 C84.50,238.03 84.05,237.80 86.00,240.00 C87.95,242.20 92.60,247.30 94.70,249.80 C96.80,252.30 97.17,253.13 98.60,255.00 C100.03,256.87 101.73,259.00 103.30,261.00 C104.87,263.00 106.55,265.45 108.00,267.00 C109.45,268.55 110.67,269.67 112.00,270.30 C113.33,270.93 114.67,270.92 116.00,270.80 C117.33,270.68 118.67,270.02 120.00,269.60 C121.33,269.18 121.48,269.10 124.00,268.30 C126.52,267.50 130.90,265.92 135.10,264.80 C139.30,263.68 145.05,261.82 149.20,261.60 C153.35,261.38 157.15,262.73 160.00,263.50 C162.85,264.27 164.13,265.20 166.30,266.20 C168.47,267.20 170.72,268.28 173.00,269.50 C175.28,270.72 177.67,271.83 180.00,273.50 C182.33,275.17 184.67,277.42 187.00,279.50 C189.33,281.58 191.83,284.22 194.00,286.00 C196.17,287.78 197.78,289.20 200.00,290.20 C202.22,291.20 204.97,291.95 207.30,292.00 C209.63,292.05 211.55,291.33 214.00,290.50 C216.45,289.67 218.33,288.55 222.00,287.00 C225.67,285.45 230.42,282.72 236.00,281.20 C241.58,279.68 249.83,278.27 255.50,277.90 C261.17,277.53 265.08,278.40 270.00,279.00 C274.92,279.60 280.00,280.77 285.00,281.50 C290.00,282.23 293.40,282.95 300.00,283.40 C306.60,283.85 320.50,284.07 324.60,284.20" fill="none" stroke="#303030" stroke-width="1.0" clip-path="url(#ca)"/>
<path d="M236.00,281.20 C239.25,280.65 249.83,278.32 255.50,277.90 C261.17,277.48 265.45,278.38 270.00,278.70 C274.55,279.02 277.80,279.65 282.80,279.80 C287.80,279.95 293.03,279.85 300.00,279.60 C306.97,279.35 320.50,278.52 324.60,278.30" fill="none" stroke="#303030" stroke-width="1.0" stroke-dasharray="3.2,2.2" clip-path="url(#ca)"/>
<circle cx="64.50" cy="215.60" r="2.0"/>
<circle cx="68.60" cy="219.80" r="2.0"/>
<circle cx="77.10" cy="231.60" r="2.0"/>
<circle cx="83.00" cy="235.90" r="2.0"/>
<circle cx="86.00" cy="239.80" r="2.0"/>
<circle cx="94.60" cy="249.50" r="2.0"/>
<circle cx="98.60" cy="254.50" r="2.0"/>
<circle cx="103.20" cy="260.20" r="2.0"/>
<circle cx="109.80" cy="269.40" r="2.0"/>
<circle cx="113.10" cy="272.40" r="2.0"/>
<circle cx="118.90" cy="272.20" r="2.0"/>
<circle cx="125.80" cy="269.70" r="2.0"/>
<circle cx="135.10" cy="265.80" r="2.0"/>
<circle cx="150.70" cy="263.00" r="2.0"/>
<circle cx="166.30" cy="267.70" r="2.0"/>
<circle cx="182.90" cy="276.30" r="2.0"/>
<path d="M36.97,3.80 C36.98,6.14 37.00,13.14 37.02,17.82 C37.05,22.49 37.07,27.16 37.10,31.83 C37.13,36.50 37.16,41.18 37.20,45.85 C37.24,50.52 37.29,55.19 37.34,59.86 C37.40,64.54 37.46,69.21 37.53,73.88 C37.61,78.55 37.69,83.22 37.78,87.90 C37.88,92.57 37.99,97.24 38.13,101.91 C38.26,106.58 38.40,111.26 38.58,115.93 C38.76,120.60 38.96,125.27 39.20,129.94 C39.44,134.62 39.71,139.29 40.03,143.96 C40.36,148.63 40.71,153.30 41.15,157.97 C41.59,162.64 42.06,167.32 42.65,171.99 C43.24,176.66 43.88,181.33 44.68,186.00 C45.47,190.66 46.43,195.67 47.40,200.00 C48.37,204.33 49.40,208.00 50.50,212.00 C51.60,216.00 52.92,220.75 54.00,224.00 C55.08,227.25 56.00,229.37 57.00,231.50 C58.00,233.63 58.58,234.68 60.00,236.80 C61.42,238.92 63.82,242.02 65.50,244.20 C67.18,246.38 68.73,248.27 70.10,249.90 C71.47,251.53 72.45,252.67 73.70,254.00 C74.95,255.33 76.23,256.53 77.60,257.90 C78.97,259.27 80.53,260.67 81.90,262.20 C83.27,263.73 84.42,265.38 85.80,267.10 C87.18,268.82 88.65,270.58 90.20,272.50 C91.75,274.42 93.63,276.48 95.10,278.60 C96.57,280.72 97.70,282.92 99.00,285.20 C100.30,287.48 101.60,289.75 102.90,292.30 C104.20,294.85 105.62,298.38 106.80,300.50 C107.98,302.62 108.88,304.25 110.00,305.00 C111.12,305.75 112.17,305.75 113.50,305.00 C114.83,304.25 116.28,302.30 118.00,300.50 C119.72,298.70 122.12,295.68 123.80,294.20 C125.48,292.72 126.22,292.47 128.10,291.60 C129.98,290.73 132.23,289.63 135.10,289.00 C137.97,288.37 141.98,287.55 145.30,287.80 C148.62,288.05 151.75,289.13 155.00,290.50 C158.25,291.87 161.97,294.33 164.80,296.00 C167.63,297.67 169.47,299.08 172.00,300.50 C174.53,301.92 177.00,302.42 180.00,304.50 C183.00,306.58 186.42,310.17 190.00,313.00 C193.58,315.83 197.83,320.67 201.50,321.50 C205.17,322.33 208.10,319.80 212.00,318.00 C215.90,316.20 220.90,312.37 224.90,310.70 C228.90,309.03 232.20,308.68 236.00,308.00 C239.80,307.32 243.70,306.52 247.70,306.60 C251.70,306.68 255.45,307.60 260.00,308.50 C264.55,309.40 269.78,310.57 275.00,312.00 C280.22,313.43 283.03,315.77 291.30,317.10 C299.57,318.43 319.05,319.52 324.60,320.00" fill="none" stroke="#303030" stroke-width="1.0" clip-path="url(#ca)"/>
<path d="M113.50,305.00 C114.25,304.08 116.28,301.50 118.00,299.50 C119.72,297.50 122.12,294.58 123.80,293.00 C125.48,291.42 126.22,290.92 128.10,290.00 C129.98,289.08 132.23,288.08 135.10,287.50 C137.97,286.92 141.98,286.25 145.30,286.50 C148.62,286.75 151.75,287.75 155.00,289.00 C158.25,290.25 161.97,292.42 164.80,294.00 C167.63,295.58 169.47,297.00 172.00,298.50 C174.53,300.00 177.33,300.58 180.00,303.00 C182.67,305.42 185.40,310.25 188.00,313.00 C190.60,315.75 192.77,318.67 195.60,319.50 C198.43,320.33 201.77,319.25 205.00,318.00 C208.23,316.75 211.67,313.50 215.00,312.00 C218.33,310.50 221.50,309.67 225.00,309.00 C228.50,308.33 232.22,308.40 236.00,308.00 C239.78,307.60 243.70,306.52 247.70,306.60 C251.70,306.68 255.45,307.60 260.00,308.50 C264.55,309.40 269.45,310.63 275.00,312.00 C280.55,313.37 287.47,316.20 293.30,316.70 C299.13,317.20 304.78,315.53 310.00,315.00 C315.22,314.47 322.17,313.75 324.60,313.50" fill="none" stroke="#303030" stroke-width="1.0" stroke-dasharray="3.2,2.2" clip-path="url(#ca)"/>
<circle cx="65.50" cy="244.60" r="2.0"/>
<circle cx="70.10" cy="250.00" r="2.0"/>
<circle cx="73.80" cy="254.00" r="2.0"/>
<circle cx="77.60" cy="257.90" r="2.0"/>
<circle cx="81.90" cy="262.40" r="2.0"/>
<circle cx="85.80" cy="267.10" r="2.0"/>
<circle cx="90.40" cy="272.70" r="2.0"/>
<circle cx="94.80" cy="278.60" r="2.0"/>
<circle cx="98.50" cy="285.00" r="2.0"/>
<circle cx="102.90" cy="292.00" r="2.0"/>
<circle cx="106.80" cy="301.00" r="2.0"/>
<circle cx="110.30" cy="305.50" r="2.0"/>
<circle cx="115.20" cy="303.90" r="2.0"/>
<circle cx="119.40" cy="298.20" r="2.0"/>
<circle cx="123.80" cy="294.20" r="2.0"/>
<circle cx="128.10" cy="291.70" r="2.0"/>
<circle cx="135.10" cy="287.80" r="2.0"/>
<circle cx="152.10" cy="287.80" r="2.0"/>
<circle cx="159.90" cy="290.30" r="2.0"/>
<circle cx="168.30" cy="293.70" r="2.0"/>
<circle cx="175.50" cy="297.60" r="2.0"/>
<circle cx="182.90" cy="302.80" r="2.0"/>
<circle cx="192.10" cy="307.90" r="2.0"/>
<circle cx="206.30" cy="310.80" r="2.0"/>
<circle cx="213.20" cy="308.60" r="2.0"/>
<circle cx="222.50" cy="306.00" r="2.0"/>
<circle cx="228.80" cy="304.30" r="2.0"/>
<circle cx="238.10" cy="303.60" r="2.0"/>
<circle cx="244.80" cy="303.10" r="2.0"/>
<circle cx="253.20" cy="303.10" r="2.0"/>
<circle cx="261.00" cy="303.10" r="2.0"/>
<circle cx="269.30" cy="303.60" r="2.0"/>
<path d="M36.90,3.80 C36.90,6.14 36.92,13.14 36.93,17.81 C36.94,22.49 36.96,27.16 36.97,31.83 C36.99,36.50 37.01,41.17 37.03,45.84 C37.06,50.52 37.08,55.19 37.11,59.86 C37.14,64.53 37.18,69.20 37.22,73.87 C37.26,78.55 37.31,83.22 37.37,87.89 C37.42,92.56 37.49,97.23 37.56,101.90 C37.64,106.58 37.72,111.25 37.83,115.92 C37.93,120.59 38.04,125.26 38.18,129.93 C38.32,134.61 38.47,139.28 38.66,143.95 C38.85,148.62 39.05,153.29 39.30,157.96 C39.55,162.63 39.83,167.31 40.17,171.98 C40.51,176.65 40.88,181.32 41.33,185.99 C41.79,190.66 42.29,194.66 42.90,200.00 C43.51,205.34 44.15,212.00 45.00,218.00 C45.85,224.00 46.73,230.67 48.00,236.00 C49.27,241.33 51.10,245.75 52.60,250.00 C54.10,254.25 55.47,258.25 57.00,261.50 C58.53,264.75 59.62,266.58 61.80,269.50 C63.98,272.42 67.35,275.92 70.10,279.00 C72.85,282.08 75.47,284.97 78.30,288.00 C81.13,291.03 84.92,294.50 87.10,297.20 C89.28,299.90 90.12,301.98 91.40,304.20 C92.68,306.42 93.53,307.78 94.80,310.50 C96.07,313.22 97.65,317.28 99.00,320.50 C100.35,323.72 101.82,327.30 102.90,329.80 C103.98,332.30 104.68,334.13 105.50,335.50 C106.32,336.87 106.97,338.08 107.80,338.00 C108.63,337.92 109.37,336.75 110.50,335.00 C111.63,333.25 113.10,329.75 114.60,327.50 C116.10,325.25 117.63,323.00 119.50,321.50 C121.37,320.00 123.72,319.25 125.80,318.50 C127.88,317.75 129.73,317.33 132.00,317.00 C134.27,316.67 136.90,316.42 139.40,316.50 C141.90,316.58 144.40,316.85 147.00,317.50 C149.60,318.15 152.67,319.40 155.00,320.40 C157.33,321.40 159.05,322.23 161.00,323.50 C162.95,324.77 164.70,326.17 166.70,328.00 C168.70,329.83 170.78,332.08 173.00,334.50 C175.22,336.92 178.00,340.17 180.00,342.50 C182.00,344.83 183.33,346.85 185.00,348.50 C186.67,350.15 188.33,351.98 190.00,352.40 C191.67,352.82 193.22,352.07 195.00,351.00 C196.78,349.93 197.87,347.75 200.70,346.00 C203.53,344.25 208.12,342.00 212.00,340.50 C215.88,339.00 220.00,337.65 224.00,337.00 C228.00,336.35 230.75,336.02 236.00,336.60 C241.25,337.18 248.67,338.88 255.50,340.50 C262.33,342.12 270.93,345.17 277.00,346.30 C283.07,347.43 286.78,347.45 291.90,347.30 C297.02,347.15 302.25,345.98 307.70,345.40 C313.15,344.82 321.78,344.07 324.60,343.80" fill="none" stroke="#303030" stroke-width="1.0" clip-path="url(#ca)"/>
<path d="M99.00,320.50 C99.65,322.25 101.82,327.75 102.90,331.00 C103.98,334.25 104.68,337.73 105.50,340.00 C106.32,342.27 106.97,344.93 107.80,344.60 C108.63,344.27 109.37,340.85 110.50,338.00 C111.63,335.15 113.10,330.42 114.60,327.50 C116.10,324.58 117.63,322.22 119.50,320.50 C121.37,318.78 123.72,317.98 125.80,317.20 C127.88,316.42 129.73,316.12 132.00,315.80 C134.27,315.48 136.90,315.23 139.40,315.30 C141.90,315.37 144.40,315.58 147.00,316.20 C149.60,316.82 152.67,317.95 155.00,319.00 C157.33,320.05 159.05,321.17 161.00,322.50 C162.95,323.83 164.63,325.17 166.70,327.00 C168.77,328.83 171.18,331.58 173.40,333.50 C175.62,335.42 177.73,336.75 180.00,338.50 C182.27,340.25 184.20,342.83 187.00,344.00 C189.80,345.17 193.87,345.72 196.80,345.50 C199.73,345.28 201.57,343.87 204.60,342.70 C207.63,341.53 209.77,339.68 215.00,338.50 C220.23,337.32 229.33,335.43 236.00,335.60 C242.67,335.77 250.00,338.18 255.00,339.50 C260.00,340.82 262.02,342.03 266.00,343.50 C269.98,344.97 274.58,347.32 278.90,348.30 C283.22,349.28 287.10,349.88 291.90,349.40 C296.70,348.92 302.25,346.33 307.70,345.40 C313.15,344.47 321.78,344.07 324.60,343.80" fill="none" stroke="#303030" stroke-width="1.0" stroke-dasharray="3.2,2.2" clip-path="url(#ca)"/>
<circle cx="61.80" cy="269.90" r="2.0"/>
<circle cx="70.10" cy="279.30" r="2.0"/>
<circle cx="78.30" cy="288.00" r="2.0"/>
<circle cx="87.10" cy="297.20" r="2.0"/>
<circle cx="91.40" cy="304.40" r="2.0"/>
<circle cx="94.80" cy="310.50" r="2.0"/>
<circle cx="99.00" cy="321.00" r="2.0"/>
<circle cx="102.90" cy="330.20" r="2.0"/>
<circle cx="106.80" cy="336.70" r="2.0"/>
<circle cx="110.30" cy="334.70" r="2.0"/>
<circle cx="114.60" cy="327.30" r="2.0"/>
<circle cx="119.50" cy="321.20" r="2.0"/>
<circle cx="127.70" cy="316.10" r="2.0"/>
<circle cx="135.50" cy="314.50" r="2.0"/>
<circle cx="144.30" cy="314.10" r="2.0"/>
<circle cx="152.10" cy="317.10" r="2.0"/>
<circle cx="159.90" cy="321.00" r="2.0"/>
<circle cx="168.30" cy="326.20" r="2.0"/>
<circle cx="176.20" cy="331.50" r="2.0"/>
<circle cx="184.00" cy="335.20" r="2.0"/>
<circle cx="192.30" cy="337.50" r="2.0"/>
<circle cx="200.60" cy="337.50" r="2.0"/>
<circle cx="208.40" cy="336.70" r="2.0"/>
<circle cx="216.10" cy="335.50" r="2.0"/>
<circle cx="224.50" cy="335.10" r="2.0"/>
<circle cx="232.30" cy="335.10" r="2.0"/>
<circle cx="240.30" cy="334.00" r="2.0"/>
<circle cx="247.70" cy="334.60" r="2.0"/>
<circle cx="255.50" cy="335.60" r="2.0"/>
<circle cx="263.30" cy="337.00" r="2.0"/>
<circle cx="271.10" cy="338.10" r="2.0"/>
<circle cx="278.90" cy="339.60" r="2.0"/>
<circle cx="286.50" cy="341.00" r="2.0"/>
<circle cx="294.40" cy="342.30" r="2.0"/>
<circle cx="303.80" cy="342.20" r="2.0"/>
<circle cx="312.80" cy="342.20" r="2.0"/>
<path d="M36.87,3.80 C36.87,6.14 36.89,13.14 36.89,17.81 C36.90,22.49 36.91,27.16 36.93,31.83 C36.94,36.50 36.95,41.17 36.97,45.84 C36.99,50.52 37.01,55.19 37.03,59.86 C37.05,64.53 37.08,69.20 37.11,73.87 C37.14,78.54 37.18,83.22 37.22,87.89 C37.26,92.56 37.31,97.23 37.36,101.90 C37.42,106.57 37.48,111.25 37.56,115.92 C37.63,120.59 37.72,125.26 37.82,129.93 C37.92,134.60 38.03,139.27 38.17,143.95 C38.31,148.62 38.46,153.29 38.65,157.96 C38.83,162.63 39.03,167.30 39.28,171.97 C39.53,176.65 39.81,181.32 40.14,185.99 C40.48,190.66 40.79,193.50 41.30,200.00 C41.81,206.50 42.52,216.67 43.20,225.00 C43.88,233.33 44.43,242.83 45.40,250.00 C46.37,257.17 47.73,262.67 49.00,268.00 C50.27,273.33 51.67,278.17 53.00,282.00 C54.33,285.83 55.67,288.33 57.00,291.00 C58.33,293.67 59.67,296.00 61.00,298.00 C62.33,300.00 63.50,301.33 65.00,303.00 C66.50,304.67 68.33,306.42 70.00,308.00 C71.67,309.58 73.33,310.83 75.00,312.50 C76.67,314.17 78.12,315.78 80.00,318.00 C81.88,320.22 84.50,323.55 86.30,325.80 C88.10,328.05 89.35,328.97 90.80,331.50 C92.25,334.03 93.63,337.58 95.00,341.00 C96.37,344.42 97.62,348.50 99.00,352.00 C100.38,355.50 101.90,359.17 103.30,362.00 C104.70,364.83 106.10,368.67 107.40,369.00 C108.70,369.33 109.83,365.83 111.10,364.00 C112.37,362.17 113.67,359.83 115.00,358.00 C116.33,356.17 117.30,354.72 119.10,353.00 C120.90,351.28 123.07,349.23 125.80,347.70 C128.53,346.17 132.25,344.35 135.50,343.80 C138.75,343.25 142.55,343.87 145.30,344.40 C148.05,344.93 149.88,345.90 152.00,347.00 C154.12,348.10 155.67,349.42 158.00,351.00 C160.33,352.58 163.43,354.50 166.00,356.50 C168.57,358.50 170.90,360.17 173.40,363.00 C175.90,365.83 178.57,370.48 181.00,373.50 C183.43,376.52 186.00,380.10 188.00,381.10 C190.00,382.10 191.22,380.52 193.00,379.50 C194.78,378.48 196.70,376.58 198.70,375.00 C200.70,373.42 202.78,371.42 205.00,370.00 C207.22,368.58 208.83,367.50 212.00,366.50 C215.17,365.50 220.00,364.27 224.00,364.00 C228.00,363.73 230.83,363.98 236.00,364.90 C241.17,365.82 248.50,367.72 255.00,369.50 C261.50,371.28 268.85,374.72 275.00,375.60 C281.15,376.48 286.45,375.33 291.90,374.80 C297.35,374.27 302.25,373.12 307.70,372.40 C313.15,371.68 321.78,370.82 324.60,370.50" fill="none" stroke="#303030" stroke-width="1.0" clip-path="url(#ca)"/>
<path d="M99.00,353.00 C99.72,355.00 101.87,361.52 103.30,365.00 C104.73,368.48 106.23,373.73 107.60,373.90 C108.97,374.07 110.27,368.65 111.50,366.00 C112.73,363.35 113.73,360.33 115.00,358.00 C116.27,355.67 117.30,353.92 119.10,352.00 C120.90,350.08 123.07,348.08 125.80,346.50 C128.53,344.92 132.25,343.08 135.50,342.50 C138.75,341.92 142.55,342.50 145.30,343.00 C148.05,343.50 149.88,344.50 152.00,345.50 C154.12,346.50 155.42,347.03 158.00,349.00 C160.58,350.97 164.33,354.63 167.50,357.30 C170.67,359.97 173.75,362.72 177.00,365.00 C180.25,367.28 183.05,370.00 187.00,371.00 C190.95,372.00 196.53,371.50 200.70,371.00 C204.87,370.50 208.12,369.08 212.00,368.00 C215.88,366.92 220.00,365.18 224.00,364.50 C228.00,363.82 230.33,362.98 236.00,363.90 C241.67,364.82 251.17,367.72 258.00,370.00 C264.83,372.28 271.88,376.20 277.00,377.60 C282.12,379.00 283.58,379.00 288.70,378.40 C293.82,377.80 301.72,375.27 307.70,374.00 C313.68,372.73 321.78,371.33 324.60,370.80" fill="none" stroke="#303030" stroke-width="1.0" stroke-dasharray="3.2,2.2" clip-path="url(#ca)"/>
<circle cx="61.00" cy="299.20" r="2.0"/>
<circle cx="70.00" cy="307.70" r="2.0"/>
<circle cx="86.30" cy="325.80" r="2.0"/>
<circle cx="94.80" cy="342.10" r="2.0"/>
<circle cx="102.70" cy="360.30" r="2.0"/>
<circle cx="119.50" cy="352.80" r="2.0"/>
<circle cx="127.80" cy="346.30" r="2.0"/>
<circle cx="135.60" cy="343.00" r="2.0"/>
<circle cx="152.00" cy="345.50" r="2.0"/>
<circle cx="160.30" cy="350.30" r="2.0"/>
<circle cx="167.90" cy="353.70" r="2.0"/>
<circle cx="184.00" cy="363.20" r="2.0"/>
<circle cx="200.60" cy="364.20" r="2.0"/>
<circle cx="216.10" cy="362.00" r="2.0"/>
<circle cx="232.30" cy="360.50" r="2.0"/>
<circle cx="248.10" cy="362.50" r="2.0"/>
<text x="205" y="85.1" font-size="8.9" font-weight="bold">0.783 MeV</text>
<text x="204" y="119.8" font-size="8.9" font-weight="bold">1.003</text>
<text x="203.2" y="155.1" font-size="8.9" font-weight="bold">1.508</text>
<text x="203.2" y="188.7" font-size="8.9" font-weight="bold">2.004</text>
<text x="203.2" y="220.5" font-size="8.9" font-weight="bold">3.031</text>
<text x="203.4" y="285.1" font-size="8.9" font-weight="bold">13.0</text>
<text x="203.4" y="304.6" font-size="8.9" font-weight="bold">15.0</text>
<text x="203.2" y="334.7" font-size="8.9" font-weight="bold">17.0</text>
<text x="203.2" y="360.5" font-size="8.9" font-weight="bold">17.5</text>
<rect x="36.4" y="436.7" width="288.00" height="378.80" fill="none" stroke="#555" stroke-width="0.9"/>
<path d="M36.40,436.70h6 M36.40,457.07h3 M36.40,451.94h3 M36.40,448.30h3 M36.40,445.47h3 M36.40,443.16h3 M36.40,441.21h3 M36.40,439.52h3 M36.40,438.03h3 M36.40,465.84h6 M36.40,486.21h3 M36.40,481.07h3 M36.40,477.43h3 M36.40,474.61h3 M36.40,472.30h3 M36.40,470.35h3 M36.40,468.66h3 M36.40,467.17h3 M36.40,494.98h6 M36.40,515.34h3 M36.40,510.21h3 M36.40,506.57h3 M36.40,503.75h3 M36.40,501.44h3 M36.40,499.49h3 M36.40,497.80h3 M36.40,496.31h3 M36.40,524.12h6 M36.40,544.48h3 M36.40,539.35h3 M36.40,535.71h3 M36.40,532.89h3 M36.40,530.58h3 M36.40,528.63h3 M36.40,526.94h3 M36.40,525.45h3 M36.40,553.25h6 M36.40,573.62h3 M36.40,568.49h3 M36.40,564.85h3 M36.40,562.03h3 M36.40,559.72h3 M36.40,557.77h3 M36.40,556.08h3 M36.40,554.59h3 M36.40,582.39h6 M36.40,602.76h3 M36.40,597.63h3 M36.40,593.99h3 M36.40,591.16h3 M36.40,588.86h3 M36.40,586.91h3 M36.40,585.22h3 M36.40,583.73h3 M36.40,611.53h6 M36.40,631.90h3 M36.40,626.77h3 M36.40,623.13h3 M36.40,620.30h3 M36.40,618.00h3 M36.40,616.04h3 M36.40,614.35h3 M36.40,612.86h3 M36.40,640.67h6 M36.40,661.04h3 M36.40,655.91h3 M36.40,652.26h3 M36.40,649.44h3 M36.40,647.13h3 M36.40,645.18h3 M36.40,643.49h3 M36.40,642.00h3 M36.40,669.81h6 M36.40,690.17h3 M36.40,685.04h3 M36.40,681.40h3 M36.40,678.58h3 M36.40,676.27h3 M36.40,674.32h3 M36.40,672.63h3 M36.40,671.14h3 M36.40,698.95h6 M36.40,719.31h3 M36.40,714.18h3 M36.40,710.54h3 M36.40,707.72h3 M36.40,705.41h3 M36.40,703.46h3 M36.40,701.77h3 M36.40,700.28h3 M36.40,728.08h6 M36.40,748.45h3 M36.40,743.32h3 M36.40,739.68h3 M36.40,736.86h3 M36.40,734.55h3 M36.40,732.60h3 M36.40,730.91h3 M36.40,729.42h3 M36.40,757.22h6 M36.40,777.59h3 M36.40,772.46h3 M36.40,768.82h3 M36.40,765.99h3 M36.40,763.69h3 M36.40,761.74h3 M36.40,760.05h3 M36.40,758.56h3 M36.40,786.36h6 M36.40,806.73h3 M36.40,801.60h3 M36.40,797.96h3 M36.40,795.13h3 M36.40,792.83h3 M36.40,790.88h3 M36.40,789.19h3 M36.40,787.69h3 M36.40,815.50h6 M44.40,815.50v-2.3 M52.40,815.50v-2.3 M60.40,815.50v-2.3 M68.40,815.50v-2.3 M76.40,815.50v-2.3 M84.40,815.50v-2.3 M92.40,815.50v-2.3 M100.40,815.50v-2.3 M108.40,815.50v-2.3 M116.40,815.50v-6 M124.40,815.50v-2.3 M132.40,815.50v-2.3 M140.40,815.50v-2.3 M148.40,815.50v-2.3 M156.40,815.50v-2.3 M164.40,815.50v-2.3 M172.40,815.50v-2.3 M180.40,815.50v-2.3 M188.40,815.50v-2.3 M196.40,815.50v-6 M204.40,815.50v-2.3 M212.40,815.50v-2.3 M220.40,815.50v-2.3 M228.40,815.50v-2.3 M236.40,815.50v-2.3 M244.40,815.50v-2.3 M252.40,815.50v-2.3 M260.40,815.50v-2.3 M268.40,815.50v-2.3 M276.40,815.50v-6 M284.40,815.50v-2.3 M292.40,815.50v-2.3 M300.40,815.50v-2.3 M308.40,815.50v-2.3 M316.40,815.50v-2.3 " stroke="#555" stroke-width="0.8" fill="none"/>
<text x="24.20" y="442.50" text-anchor="end" font-size="11.0" font-weight="bold">10</text>
<text x="24.50" y="438.20" font-size="8.4" font-weight="bold">+4</text>
<text x="24.20" y="471.64" text-anchor="end" font-size="11.0" font-weight="bold">10</text>
<text x="24.50" y="467.34" font-size="8.4" font-weight="bold">+3</text>
<text x="24.20" y="500.78" text-anchor="end" font-size="11.0" font-weight="bold">10</text>
<text x="24.50" y="496.48" font-size="8.4" font-weight="bold">+2</text>
<text x="24.20" y="529.92" text-anchor="end" font-size="11.0" font-weight="bold">10</text>
<text x="24.50" y="525.62" font-size="8.4" font-weight="bold">+1</text>
<text x="24.20" y="559.05" text-anchor="end" font-size="11.0" font-weight="bold">10</text>
<text x="24.50" y="554.75" font-size="8.4" font-weight="bold">+0</text>
<text x="24.20" y="588.19" text-anchor="end" font-size="11.0" font-weight="bold">10</text>
<text x="24.50" y="583.89" font-size="8.4" font-weight="bold">-1</text>
<text x="24.20" y="617.33" text-anchor="end" font-size="11.0" font-weight="bold">10</text>
<text x="24.50" y="613.03" font-size="8.4" font-weight="bold">-2</text>
<text x="24.20" y="646.47" text-anchor="end" font-size="11.0" font-weight="bold">10</text>
<text x="24.50" y="642.17" font-size="8.4" font-weight="bold">-3</text>
<text x="24.20" y="675.61" text-anchor="end" font-size="11.0" font-weight="bold">10</text>
<text x="24.50" y="671.31" font-size="8.4" font-weight="bold">-4</text>
<text x="24.20" y="704.75" text-anchor="end" font-size="11.0" font-weight="bold">10</text>
<text x="24.50" y="700.45" font-size="8.4" font-weight="bold">-5</text>
<text x="24.20" y="733.88" text-anchor="end" font-size="11.0" font-weight="bold">10</text>
<text x="24.50" y="729.58" font-size="8.4" font-weight="bold">-6</text>
<text x="24.20" y="763.02" text-anchor="end" font-size="11.0" font-weight="bold">10</text>
<text x="24.50" y="758.72" font-size="8.4" font-weight="bold">-7</text>
<text x="24.20" y="792.16" text-anchor="end" font-size="11.0" font-weight="bold">10</text>
<text x="24.50" y="787.86" font-size="8.4" font-weight="bold">-8</text>
<text x="24.20" y="821.30" text-anchor="end" font-size="11.0" font-weight="bold">10</text>
<text x="24.50" y="817.00" font-size="8.4" font-weight="bold">-9</text>
<text x="36.60" y="825.2" text-anchor="middle" font-size="11" font-weight="bold">0</text>
<text x="116.60" y="825.2" text-anchor="middle" font-size="11" font-weight="bold">50</text>
<text x="196.60" y="825.2" text-anchor="middle" font-size="11" font-weight="bold">100</text>
<text x="276.60" y="825.2" text-anchor="middle" font-size="11" font-weight="bold">150</text>
<text transform="translate(151.7,832.5) scale(1.38,1)" font-size="9.4" font-weight="bold">θ</text><text x="157.2" y="835.2" font-size="9" font-weight="bold">c.m.</text><text x="177.6" y="835.3" font-size="12.3" font-weight="bold">(deg)</text>
<text transform="translate(10.8,628.3) rotate(-90)" text-anchor="middle" font-size="11.7" font-weight="bold">dσ/dΩ (mb/sr)</text>
<text x="162.5" y="456.8" font-size="8.1" font-weight="bold"><tspan font-size="6.1" dy="-4.4">27</tspan><tspan dy="4.4">Al(p,p)</tspan><tspan font-size="6.1" dy="-4.4">27</tspan><tspan dy="4.4">Al</tspan></text>
<text x="300.5" y="454.9" font-family='"Liberation Serif", serif' font-size="14" style="stroke:none">(b)</text>
<path d="M51.30,436.70 C51.93,438.37 53.70,443.52 55.10,446.70 C56.50,449.88 58.30,453.38 59.70,455.80 C61.10,458.22 61.97,459.42 63.50,461.20 C65.03,462.98 66.73,464.48 68.90,466.50 C71.07,468.52 73.97,470.50 76.50,473.30 C79.03,476.10 81.90,479.77 84.10,483.30 C86.30,486.83 88.12,491.55 89.70,494.50 C91.28,497.45 92.38,498.42 93.60,501.00 C94.82,503.58 96.02,506.67 97.00,510.00 C97.98,513.33 98.75,517.50 99.50,521.00 C100.25,524.50 100.88,528.25 101.50,531.00 C102.12,533.75 102.70,535.92 103.20,537.50 C103.70,539.08 104.03,540.75 104.50,540.50 C104.97,540.25 105.45,537.75 106.00,536.00 C106.55,534.25 107.17,531.93 107.80,530.00 C108.43,528.07 108.95,526.48 109.80,524.40 C110.65,522.32 111.37,519.67 112.90,517.50 C114.43,515.33 116.72,513.17 119.00,511.40 C121.28,509.63 124.07,507.92 126.60,506.90 C129.13,505.88 131.80,505.32 134.20,505.30 C136.60,505.28 138.37,505.82 141.00,506.80 C143.63,507.78 147.50,509.58 150.00,511.20 C152.50,512.82 154.05,514.55 156.00,516.50 C157.95,518.45 159.45,520.20 161.70,522.90 C163.95,525.60 167.12,529.35 169.50,532.70 C171.88,536.05 173.92,540.20 176.00,543.00 C178.08,545.80 180.33,548.67 182.00,549.50 C183.67,550.33 184.83,548.92 186.00,548.00 C187.17,547.08 187.50,545.58 189.00,544.00 C190.50,542.42 193.05,540.07 195.00,538.50 C196.95,536.93 197.92,535.93 200.70,534.60 C203.48,533.27 208.23,531.22 211.70,530.50 C215.17,529.78 218.25,529.85 221.50,530.30 C224.75,530.75 227.63,531.75 231.20,533.20 C234.77,534.65 239.00,537.15 242.90,539.00 C246.80,540.85 251.25,543.08 254.60,544.30 C257.95,545.52 260.20,545.98 263.00,546.30 C265.80,546.62 268.57,546.67 271.40,546.20 C274.23,545.73 276.72,544.62 280.00,543.50 C283.28,542.38 286.32,540.82 291.10,539.50 C295.88,538.18 303.17,536.42 308.70,535.60 C314.23,534.78 321.70,534.77 324.30,534.60" fill="none" stroke="#303030" stroke-width="1.0" clip-path="url(#cb)"/>
<path d="M97.00,510.00 C97.50,512.00 99.08,518.17 100.00,522.00 C100.92,525.83 101.75,529.83 102.50,533.00 C103.25,536.17 103.83,540.67 104.50,541.00 C105.17,541.33 105.75,537.50 106.50,535.00 C107.25,532.50 107.92,528.83 109.00,526.00 C110.08,523.17 111.50,520.33 113.00,518.00 C114.50,515.67 116.50,513.58 118.00,512.00 C119.50,510.42 120.33,509.58 122.00,508.50 C123.67,507.42 125.83,506.13 128.00,505.50 C130.17,504.87 132.67,504.62 135.00,504.70 C137.33,504.78 139.50,505.23 142.00,506.00 C144.50,506.77 147.03,507.45 150.00,509.30 C152.97,511.15 156.55,514.18 159.80,517.10 C163.05,520.02 166.25,523.88 169.50,526.80 C172.75,529.72 176.05,532.80 179.30,534.60 C182.55,536.40 186.08,537.27 189.00,537.60 C191.92,537.93 194.20,537.25 196.80,536.60 C199.40,535.95 201.57,534.55 204.60,533.70 C207.63,532.85 211.60,531.87 215.00,531.50 C218.40,531.13 221.65,531.38 225.00,531.50 C228.35,531.62 231.47,531.43 235.10,532.20 C238.73,532.97 243.32,534.88 246.80,536.10 C250.28,537.32 253.13,538.52 256.00,539.50 C258.87,540.48 261.67,541.00 264.00,542.00 C266.33,543.00 268.03,544.63 270.00,545.50 C271.97,546.37 273.30,547.28 275.80,547.20 C278.30,547.12 281.72,545.92 285.00,545.00 C288.28,544.08 291.67,542.78 295.50,541.70 C299.33,540.62 303.20,539.45 308.00,538.50 C312.80,537.55 321.58,536.42 324.30,536.00" fill="none" stroke="#303030" stroke-width="1.0" stroke-dasharray="3.2,2.2" clip-path="url(#cb)"/>
<circle cx="64.90" cy="466.20" r="2.0"/>
<circle cx="69.20" cy="470.70" r="2.0"/>
<circle cx="72.10" cy="474.00" r="2.0"/>
<circle cx="77.40" cy="479.30" r="2.0"/>
<circle cx="81.30" cy="483.80" r="2.0"/>
<circle cx="85.20" cy="489.70" r="2.0"/>
<circle cx="88.90" cy="496.70" r="2.0"/>
<circle cx="93.00" cy="504.80" r="2.0"/>
<circle cx="97.00" cy="514.70" r="2.0"/>
<circle cx="100.90" cy="525.60" r="2.0"/>
<circle cx="104.20" cy="530.90" r="2.0"/>
<circle cx="109.50" cy="524.50" r="2.0"/>
<circle cx="112.70" cy="517.90" r="2.0"/>
<circle cx="118.20" cy="512.60" r="2.0"/>
<circle cx="122.20" cy="508.70" r="2.0"/>
<circle cx="125.80" cy="507.60" r="2.0"/>
<circle cx="134.00" cy="505.50" r="2.0"/>
<circle cx="151.00" cy="510.20" r="2.0"/>
<circle cx="158.80" cy="515.10" r="2.0"/>
<circle cx="165.20" cy="521.80" r="2.0"/>
<circle cx="173.90" cy="526.60" r="2.0"/>
<circle cx="182.30" cy="529.80" r="2.0"/>
<circle cx="190.50" cy="529.80" r="2.0"/>
<circle cx="205.50" cy="527.60" r="2.0"/>
<circle cx="213.30" cy="529.30" r="2.0"/>
<circle cx="221.50" cy="529.30" r="2.0"/>
<circle cx="228.30" cy="530.20" r="2.0"/>
<circle cx="236.10" cy="530.80" r="2.0"/>
<circle cx="244.50" cy="531.20" r="2.0"/>
<circle cx="252.30" cy="531.60" r="2.0"/>
<circle cx="260.20" cy="533.80" r="2.0"/>
<circle cx="268.70" cy="535.10" r="2.0"/>
<path d="M44.80,436.70 C45.18,439.25 46.07,446.78 47.10,452.00 C48.13,457.22 49.77,463.92 51.00,468.00 C52.23,472.08 53.10,473.70 54.50,476.50 C55.90,479.30 57.45,482.12 59.40,484.80 C61.35,487.48 63.77,490.07 66.20,492.60 C68.63,495.13 71.70,497.47 74.00,500.00 C76.30,502.53 78.17,505.22 80.00,507.80 C81.83,510.38 83.37,512.80 85.00,515.50 C86.63,518.20 88.38,521.08 89.80,524.00 C91.22,526.92 92.30,529.83 93.50,533.00 C94.70,536.17 96.00,539.67 97.00,543.00 C98.00,546.33 98.70,549.50 99.50,553.00 C100.30,556.50 101.00,560.45 101.80,564.00 C102.60,567.55 103.52,573.97 104.30,574.30 C105.08,574.63 105.73,568.67 106.50,566.00 C107.27,563.33 108.15,560.47 108.90,558.30 C109.65,556.13 110.25,554.53 111.00,553.00 C111.75,551.47 112.57,550.57 113.40,549.10 C114.23,547.63 115.07,545.80 116.00,544.20 C116.93,542.60 117.67,540.78 119.00,539.50 C120.33,538.22 122.05,537.22 124.00,536.50 C125.95,535.78 128.53,535.28 130.70,535.20 C132.87,535.12 134.78,535.45 137.00,536.00 C139.22,536.55 141.55,536.93 144.00,538.50 C146.45,540.07 149.53,543.23 151.70,545.40 C153.87,547.57 155.05,549.23 157.00,551.50 C158.95,553.77 160.87,555.80 163.40,559.00 C165.93,562.20 169.93,567.37 172.20,570.70 C174.47,574.03 175.53,577.78 177.00,579.00 C178.47,580.22 179.67,579.17 181.00,578.00 C182.33,576.83 183.50,573.75 185.00,572.00 C186.50,570.25 187.75,569.02 190.00,567.50 C192.25,565.98 195.55,564.07 198.50,562.90 C201.45,561.73 204.22,560.73 207.70,560.50 C211.18,560.27 215.50,560.20 219.40,561.50 C223.30,562.80 227.20,565.70 231.10,568.30 C235.00,570.90 239.22,574.50 242.80,577.10 C246.38,579.70 249.30,582.37 252.60,583.90 C255.90,585.43 259.70,586.53 262.60,586.30 C265.50,586.07 267.43,584.13 270.00,582.50 C272.57,580.87 273.75,578.78 278.00,576.50 C282.25,574.22 290.38,570.63 295.50,568.80 C300.62,566.97 303.90,566.25 308.70,565.50 C313.50,564.75 321.70,564.50 324.30,564.30" fill="none" stroke="#303030" stroke-width="1.0" clip-path="url(#cb)"/>
<path d="M97.00,543.00 C97.50,544.33 98.95,548.25 100.00,551.00 C101.05,553.75 102.25,559.30 103.30,559.50 C104.35,559.70 104.98,555.12 106.30,552.20 C107.62,549.28 109.58,544.45 111.20,542.00 C112.82,539.55 114.05,538.82 116.00,537.50 C117.95,536.18 120.57,534.97 122.90,534.10 C125.23,533.23 127.40,532.57 130.00,532.30 C132.60,532.03 135.83,531.72 138.50,532.50 C141.17,533.28 143.15,535.18 146.00,537.00 C148.85,538.82 152.77,541.15 155.60,543.40 C158.43,545.65 160.40,547.90 163.00,550.50 C165.60,553.10 168.53,556.43 171.20,559.00 C173.87,561.57 176.40,564.60 179.00,565.90 C181.60,567.20 184.63,566.95 186.80,566.80 C188.97,566.65 190.05,565.72 192.00,565.00 C193.95,564.28 195.17,563.08 198.50,562.50 C201.83,561.92 207.53,561.35 212.00,561.50 C216.47,561.65 220.82,561.78 225.30,563.40 C229.78,565.02 234.35,568.92 238.90,571.20 C243.45,573.48 249.08,575.63 252.60,577.10 C256.12,578.57 257.23,579.18 260.00,580.00 C262.77,580.82 265.12,582.40 269.20,582.00 C273.28,581.60 279.38,579.43 284.50,577.60 C289.62,575.77 295.32,572.60 299.90,571.00 C304.48,569.40 307.93,568.83 312.00,568.00 C316.07,567.17 322.25,566.33 324.30,566.00" fill="none" stroke="#303030" stroke-width="1.0" stroke-dasharray="3.2,2.2" clip-path="url(#cb)"/>
<circle cx="65.70" cy="491.60" r="2.0"/>
<circle cx="69.20" cy="494.50" r="2.0"/>
<circle cx="73.10" cy="498.40" r="2.0"/>
<circle cx="78.00" cy="503.80" r="2.0"/>
<circle cx="81.30" cy="509.30" r="2.0"/>
<circle cx="83.80" cy="513.20" r="2.0"/>
<circle cx="85.20" cy="516.50" r="2.0"/>
<circle cx="89.70" cy="523.30" r="2.0"/>
<circle cx="93.50" cy="532.50" r="2.0"/>
<circle cx="98.00" cy="542.60" r="2.0"/>
<circle cx="100.50" cy="547.80" r="2.0"/>
<circle cx="103.00" cy="550.30" r="2.0"/>
<circle cx="105.40" cy="549.80" r="2.0"/>
<circle cx="109.30" cy="542.50" r="2.0"/>
<circle cx="114.70" cy="537.50" r="2.0"/>
<circle cx="118.00" cy="535.10" r="2.0"/>
<circle cx="122.90" cy="531.20" r="2.0"/>
<circle cx="126.80" cy="531.60" r="2.0"/>
<circle cx="132.70" cy="531.20" r="2.0"/>
<path d="M41.30,436.70 C41.48,439.25 42.03,446.78 42.40,452.00 C42.77,457.22 43.07,464.00 43.50,468.00 C43.93,472.00 44.38,473.33 45.00,476.00 C45.62,478.67 46.18,480.00 47.20,484.00 C48.22,488.00 50.00,496.33 51.10,500.00 C52.20,503.67 52.73,504.07 53.80,506.00 C54.87,507.93 56.22,509.85 57.50,511.60 C58.78,513.35 60.13,514.85 61.50,516.50 C62.87,518.15 64.28,519.83 65.70,521.50 C67.12,523.17 68.45,524.67 70.00,526.50 C71.55,528.33 73.02,530.08 75.00,532.50 C76.98,534.92 79.98,538.42 81.90,541.00 C83.82,543.58 85.20,545.68 86.50,548.00 C87.80,550.32 88.45,552.28 89.70,554.90 C90.95,557.52 92.73,560.68 94.00,563.70 C95.27,566.72 96.38,569.45 97.30,573.00 C98.22,576.55 98.73,579.92 99.50,585.00 C100.27,590.08 101.12,601.67 101.90,603.50 C102.68,605.33 103.55,598.25 104.20,596.00 C104.85,593.75 105.08,592.42 105.80,590.00 C106.52,587.58 107.48,583.98 108.50,581.50 C109.52,579.02 110.73,576.93 111.90,575.10 C113.07,573.27 114.23,571.78 115.50,570.50 C116.77,569.22 118.08,568.27 119.50,567.40 C120.92,566.53 122.47,565.80 124.00,565.30 C125.53,564.80 127.03,564.48 128.70,564.40 C130.37,564.32 132.00,564.28 134.00,564.80 C136.00,565.32 138.70,566.30 140.70,567.50 C142.70,568.70 144.17,570.00 146.00,572.00 C147.83,574.00 149.78,577.00 151.70,579.50 C153.62,582.00 155.55,584.33 157.50,587.00 C159.45,589.67 161.65,592.83 163.40,595.50 C165.15,598.17 166.50,600.83 168.00,603.00 C169.50,605.17 171.07,607.92 172.40,608.50 C173.73,609.08 174.85,607.28 176.00,606.50 C177.15,605.72 177.13,605.55 179.30,603.80 C181.47,602.05 186.22,598.05 189.00,596.00 C191.78,593.95 192.88,592.38 196.00,591.50 C199.12,590.62 203.80,590.42 207.70,590.70 C211.60,590.98 215.43,591.40 219.40,593.20 C223.37,595.00 227.82,598.12 231.50,601.50 C235.18,604.88 238.92,610.25 241.50,613.50 C244.08,616.75 245.08,618.87 247.00,621.00 C248.92,623.13 250.98,626.05 253.00,626.30 C255.02,626.55 257.07,624.15 259.10,622.50 C261.13,620.85 262.90,618.43 265.20,616.40 C267.50,614.37 270.35,611.95 272.90,610.30 C275.45,608.65 277.72,607.65 280.50,606.50 C283.28,605.35 286.35,604.30 289.60,603.40 C292.85,602.50 296.27,601.70 300.00,601.10 C303.73,600.50 307.93,600.12 312.00,599.80 C316.07,599.48 322.33,599.30 324.40,599.20" fill="none" stroke="#303030" stroke-width="1.0" clip-path="url(#cb)"/>
<path d="M97.30,573.00 C97.75,573.67 99.13,576.25 100.00,577.00 C100.87,577.75 101.67,578.17 102.50,577.50 C103.33,576.83 104.08,574.58 105.00,573.00 C105.92,571.42 106.67,569.50 108.00,568.00 C109.33,566.50 111.17,565.00 113.00,564.00 C114.83,563.00 117.00,562.45 119.00,562.00 C121.00,561.55 123.00,561.38 125.00,561.30 C127.00,561.22 128.83,561.22 131.00,561.50 C133.17,561.78 135.67,562.08 138.00,563.00 C140.33,563.92 142.72,565.00 145.00,567.00 C147.28,569.00 149.53,572.25 151.70,575.00 C153.87,577.75 155.72,580.80 158.00,583.50 C160.28,586.20 162.55,589.10 165.40,591.20 C168.25,593.30 172.33,595.47 175.10,596.10 C177.87,596.73 179.72,595.48 182.00,595.00 C184.28,594.52 186.05,593.83 188.80,593.20 C191.55,592.57 194.97,591.48 198.50,591.20 C202.03,590.92 206.75,591.03 210.00,591.50 C213.25,591.97 215.35,592.95 218.00,594.00 C220.65,595.05 223.57,596.30 225.90,597.80 C228.23,599.30 229.73,601.22 232.00,603.00 C234.27,604.78 237.00,606.92 239.50,608.50 C242.00,610.08 244.40,611.42 247.00,612.50 C249.60,613.58 252.77,614.45 255.10,615.00 C257.43,615.55 259.05,615.72 261.00,615.80 C262.95,615.88 264.82,615.92 266.80,615.50 C268.78,615.08 270.62,614.17 272.90,613.30 C275.18,612.43 277.72,611.32 280.50,610.30 C283.28,609.28 286.35,608.22 289.60,607.20 C292.85,606.18 296.27,605.15 300.00,604.20 C303.73,603.25 307.93,602.27 312.00,601.50 C316.07,600.73 322.33,599.92 324.40,599.60" fill="none" stroke="#303030" stroke-width="1.0" stroke-dasharray="3.2,2.2" clip-path="url(#cb)"/>
<circle cx="65.70" cy="521.00" r="2.0"/>
<circle cx="69.60" cy="525.70" r="2.0"/>
<circle cx="72.70" cy="529.60" r="2.0"/>
<circle cx="81.00" cy="541.00" r="2.0"/>
<circle cx="85.90" cy="546.80" r="2.0"/>
<circle cx="89.50" cy="554.20" r="2.0"/>
<circle cx="93.80" cy="563.40" r="2.0"/>
<circle cx="97.40" cy="571.60" r="2.0"/>
<circle cx="102.10" cy="578.40" r="2.0"/>
<circle cx="105.60" cy="574.50" r="2.0"/>
<circle cx="109.90" cy="570.00" r="2.0"/>
<circle cx="113.80" cy="565.40" r="2.0"/>
<circle cx="117.70" cy="562.80" r="2.0"/>
<circle cx="121.20" cy="561.50" r="2.0"/>
<circle cx="127.10" cy="560.30" r="2.0"/>
<circle cx="134.50" cy="560.90" r="2.0"/>
<circle cx="142.90" cy="564.30" r="2.0"/>
<circle cx="151.30" cy="570.70" r="2.0"/>
<circle cx="158.50" cy="578.00" r="2.0"/>
<circle cx="166.30" cy="585.00" r="2.0"/>
<circle cx="173.60" cy="587.70" r="2.0"/>
<circle cx="182.00" cy="586.30" r="2.0"/>
<circle cx="189.80" cy="585.00" r="2.0"/>
<circle cx="205.40" cy="585.90" r="2.0"/>
<circle cx="213.60" cy="587.80" r="2.0"/>
<circle cx="221.40" cy="591.70" r="2.0"/>
<circle cx="228.20" cy="593.10" r="2.0"/>
<circle cx="236.00" cy="597.20" r="2.0"/>
<circle cx="244.10" cy="598.80" r="2.0"/>
<circle cx="252.40" cy="599.90" r="2.0"/>
<circle cx="260.50" cy="600.10" r="2.0"/>
<circle cx="268.30" cy="600.10" r="2.0"/>
<path d="M39.40,436.70 C39.55,439.25 40.00,446.78 40.30,452.00 C40.60,457.22 40.88,462.67 41.20,468.00 C41.52,473.33 41.83,478.67 42.20,484.00 C42.57,489.33 43.00,496.00 43.40,500.00 C43.80,504.00 44.20,505.30 44.60,508.00 C45.00,510.70 45.32,513.70 45.80,516.20 C46.28,518.70 46.85,520.82 47.50,523.00 C48.15,525.18 48.87,527.38 49.70,529.30 C50.53,531.22 51.40,532.75 52.50,534.50 C53.60,536.25 55.05,538.05 56.30,539.80 C57.55,541.55 58.72,543.25 60.00,545.00 C61.28,546.75 62.33,548.38 64.00,550.30 C65.67,552.22 68.17,554.63 70.00,556.50 C71.83,558.37 73.18,559.33 75.00,561.50 C76.82,563.67 79.10,567.00 80.90,569.50 C82.70,572.00 84.33,574.22 85.80,576.50 C87.27,578.78 88.50,580.78 89.70,583.20 C90.90,585.62 91.87,588.37 93.00,591.00 C94.13,593.63 95.45,595.67 96.50,599.00 C97.55,602.33 98.45,606.08 99.30,611.00 C100.15,615.92 100.90,627.17 101.60,628.50 C102.30,629.83 102.85,621.75 103.50,619.00 C104.15,616.25 104.78,614.00 105.50,612.00 C106.22,610.00 106.97,608.50 107.80,607.00 C108.63,605.50 109.48,604.17 110.50,603.00 C111.52,601.83 112.32,601.13 113.90,600.00 C115.48,598.87 117.98,597.13 120.00,596.20 C122.02,595.27 123.57,594.50 126.00,594.40 C128.43,594.30 132.27,595.00 134.60,595.60 C136.93,596.20 137.98,596.68 140.00,598.00 C142.02,599.32 144.70,601.58 146.70,603.50 C148.70,605.42 150.12,606.92 152.00,609.50 C153.88,612.08 156.33,615.83 158.00,619.00 C159.67,622.17 160.75,625.83 162.00,628.50 C163.25,631.17 164.50,633.45 165.50,635.00 C166.50,636.55 167.08,637.63 168.00,637.80 C168.92,637.97 169.45,637.22 171.00,636.00 C172.55,634.78 175.30,632.17 177.30,630.50 C179.30,628.83 181.05,627.37 183.00,626.00 C184.95,624.63 186.05,623.23 189.00,622.30 C191.95,621.37 197.70,620.58 200.70,620.40 C203.70,620.22 204.53,620.40 207.00,621.20 C209.47,622.00 212.45,623.20 215.50,625.20 C218.55,627.20 222.05,630.08 225.30,633.20 C228.55,636.32 232.08,640.65 235.00,643.90 C237.92,647.15 240.80,650.58 242.80,652.70 C244.80,654.82 245.47,656.30 247.00,656.60 C248.53,656.90 250.27,655.80 252.00,654.50 C253.73,653.20 255.57,650.47 257.40,648.80 C259.23,647.13 260.75,645.85 263.00,644.50 C265.25,643.15 268.07,641.75 270.90,640.70 C273.73,639.65 276.88,638.87 280.00,638.20 C283.12,637.53 285.43,637.08 289.60,636.70 C293.77,636.32 299.20,636.12 305.00,635.90 C310.80,635.68 321.17,635.48 324.40,635.40" fill="none" stroke="#303030" stroke-width="1.0" clip-path="url(#cb)"/>
<path d="M96.50,599.00 C96.92,599.75 98.08,602.33 99.00,603.50 C99.92,604.67 101.08,605.92 102.00,606.00 C102.92,606.08 103.53,604.83 104.50,604.00 C105.47,603.17 106.38,602.25 107.80,601.00 C109.22,599.75 111.13,597.75 113.00,596.50 C114.87,595.25 117.00,594.20 119.00,593.50 C121.00,592.80 123.00,592.50 125.00,592.30 C127.00,592.10 129.00,592.02 131.00,592.30 C133.00,592.58 134.38,592.92 137.00,594.00 C139.62,595.08 143.78,597.03 146.70,598.80 C149.62,600.57 152.28,602.82 154.50,604.60 C156.72,606.38 158.25,607.68 160.00,609.50 C161.75,611.32 163.08,613.25 165.00,615.50 C166.92,617.75 169.50,621.50 171.50,623.00 C173.50,624.50 175.05,624.45 177.00,624.50 C178.95,624.55 180.22,623.98 183.20,623.30 C186.18,622.62 190.82,620.55 194.90,620.40 C198.98,620.25 203.62,621.25 207.70,622.40 C211.78,623.55 215.50,625.18 219.40,627.30 C223.30,629.42 227.20,632.40 231.10,635.10 C235.00,637.80 239.65,641.43 242.80,643.50 C245.95,645.57 247.80,646.62 250.00,647.50 C252.20,648.38 254.00,648.67 256.00,648.80 C258.00,648.93 259.55,648.83 262.00,648.30 C264.45,647.77 266.95,646.65 270.70,645.60 C274.45,644.55 278.90,643.52 284.50,642.00 C290.10,640.48 297.67,637.70 304.30,636.50 C310.93,635.30 320.97,635.08 324.30,634.80" fill="none" stroke="#303030" stroke-width="1.0" stroke-dasharray="3.2,2.2" clip-path="url(#cb)"/>
<circle cx="64.70" cy="550.50" r="2.0"/>
<circle cx="69.20" cy="554.00" r="2.0"/>
<circle cx="74.00" cy="558.60" r="2.0"/>
<circle cx="79.90" cy="569.50" r="2.0"/>
<circle cx="83.80" cy="574.40" r="2.0"/>
<circle cx="85.80" cy="576.30" r="2.0"/>
<circle cx="90.20" cy="584.90" r="2.0"/>
<circle cx="93.00" cy="592.40" r="2.0"/>
<circle cx="97.40" cy="600.00" r="2.0"/>
<circle cx="99.80" cy="602.80" r="2.0"/>
<circle cx="102.70" cy="603.80" r="2.0"/>
<circle cx="105.60" cy="601.30" r="2.0"/>
<circle cx="109.80" cy="597.40" r="2.0"/>
<circle cx="113.70" cy="593.00" r="2.0"/>
<circle cx="117.40" cy="591.70" r="2.0"/>
<circle cx="121.50" cy="590.60" r="2.0"/>
<circle cx="125.40" cy="590.40" r="2.0"/>
<circle cx="131.50" cy="591.80" r="2.0"/>
<circle cx="142.70" cy="595.70" r="2.0"/>
<path d="M38.30,436.70 C38.50,441.42 39.12,456.12 39.50,465.00 C39.88,473.88 40.22,483.33 40.60,490.00 C40.98,496.67 41.37,500.63 41.80,505.00 C42.23,509.37 42.53,509.97 43.20,516.20 C43.87,522.43 45.00,536.27 45.80,542.40 C46.60,548.53 47.13,550.15 48.00,553.00 C48.87,555.85 49.83,556.50 51.00,559.50 C52.17,562.50 53.60,568.35 55.00,571.00 C56.40,573.65 57.57,573.57 59.40,575.40 C61.23,577.23 63.72,579.73 66.00,582.00 C68.28,584.27 70.62,586.03 73.10,589.00 C75.58,591.97 78.75,596.47 80.90,599.80 C83.05,603.13 84.48,605.80 86.00,609.00 C87.52,612.20 88.75,615.17 90.00,619.00 C91.25,622.83 92.45,627.67 93.50,632.00 C94.55,636.33 95.47,641.33 96.30,645.00 C97.13,648.67 97.80,653.42 98.50,654.00 C99.20,654.58 99.87,650.50 100.50,648.50 C101.13,646.50 101.63,644.08 102.30,642.00 C102.97,639.92 103.50,637.92 104.50,636.00 C105.50,634.08 106.88,632.08 108.30,630.50 C109.72,628.92 111.22,627.53 113.00,626.50 C114.78,625.47 117.00,624.65 119.00,624.30 C121.00,623.95 123.17,624.12 125.00,624.40 C126.83,624.68 128.25,625.13 130.00,626.00 C131.75,626.87 133.67,628.08 135.50,629.60 C137.33,631.12 139.32,633.12 141.00,635.10 C142.68,637.08 144.08,639.20 145.60,641.50 C147.12,643.80 148.82,646.75 150.10,648.90 C151.38,651.05 151.95,652.05 153.30,654.40 C154.65,656.75 156.77,660.97 158.20,663.00 C159.63,665.03 160.60,666.40 161.90,666.60 C163.20,666.80 164.30,665.75 166.00,664.20 C167.70,662.65 170.07,659.08 172.10,657.30 C174.13,655.52 175.67,654.52 178.20,653.50 C180.73,652.48 184.25,651.27 187.30,651.20 C190.35,651.13 193.45,652.08 196.50,653.10 C199.55,654.12 202.35,655.32 205.60,657.30 C208.85,659.28 212.37,662.22 216.00,665.00 C219.63,667.78 224.52,671.50 227.40,674.00 C230.28,676.50 231.18,678.45 233.30,680.00 C235.42,681.55 237.50,683.47 240.10,683.30 C242.70,683.13 245.82,680.53 248.90,679.00 C251.98,677.47 255.42,675.23 258.60,674.10 C261.78,672.97 265.50,672.47 268.00,672.20 C270.50,671.93 271.60,672.20 273.60,672.50 C275.60,672.80 276.72,673.05 280.00,674.00 C283.28,674.95 288.52,676.77 293.30,678.20 C298.08,679.63 303.53,681.62 308.70,682.60 C313.87,683.58 321.70,683.85 324.30,684.10" fill="none" stroke="#303030" stroke-width="1.0" clip-path="url(#cb)"/>
<path d="M93.50,632.00 C94.08,632.08 95.83,632.33 97.00,632.50 C98.17,632.67 99.42,633.42 100.50,633.00 C101.58,632.58 102.20,631.42 103.50,630.00 C104.80,628.58 106.48,626.00 108.30,624.50 C110.12,623.00 112.45,621.83 114.40,621.00 C116.35,620.17 118.07,619.78 120.00,619.50 C121.93,619.22 124.00,619.18 126.00,619.30 C128.00,619.42 129.85,619.17 132.00,620.20 C134.15,621.23 136.98,623.78 138.90,625.50 C140.82,627.22 141.93,628.75 143.50,630.50 C145.07,632.25 146.73,634.17 148.30,636.00 C149.87,637.83 151.38,639.67 152.90,641.50 C154.42,643.33 155.50,644.95 157.40,647.00 C159.30,649.05 162.13,652.37 164.30,653.80 C166.47,655.23 168.60,655.52 170.40,655.60 C172.20,655.68 173.17,654.77 175.10,654.30 C177.03,653.83 179.52,653.13 182.00,652.80 C184.48,652.47 187.08,652.18 190.00,652.30 C192.92,652.42 195.88,652.40 199.50,653.50 C203.12,654.60 208.67,657.48 211.70,658.90 C214.73,660.32 214.75,659.95 217.70,662.00 C220.65,664.05 226.15,668.45 229.40,671.20 C232.65,673.95 235.10,677.12 237.20,678.50 C239.30,679.88 240.38,679.42 242.00,679.50 C243.62,679.58 244.13,679.40 246.90,679.00 C249.67,678.60 255.08,677.58 258.60,677.10 C262.12,676.62 264.77,676.03 268.00,676.10 C271.23,676.17 273.42,676.97 278.00,677.50 C282.58,678.03 290.38,679.30 295.50,679.30 C300.62,679.30 303.90,678.05 308.70,677.50 C313.50,676.95 321.70,676.25 324.30,676.00" fill="none" stroke="#303030" stroke-width="1.0" stroke-dasharray="3.2,2.2" clip-path="url(#cb)"/>
<circle cx="53.50" cy="569.00" r="2.0"/>
<circle cx="58.40" cy="575.00" r="2.0"/>
<circle cx="63.30" cy="579.50" r="2.0"/>
<circle cx="66.80" cy="582.20" r="2.0"/>
<circle cx="75.00" cy="590.00" r="2.0"/>
<circle cx="83.80" cy="605.60" r="2.0"/>
<circle cx="87.70" cy="609.50" r="2.0"/>
<circle cx="89.70" cy="615.50" r="2.0"/>
<circle cx="97.00" cy="628.00" r="2.0"/>
<circle cx="104.80" cy="628.00" r="2.0"/>
<circle cx="112.60" cy="623.60" r="2.0"/>
<circle cx="121.40" cy="620.20" r="2.0"/>
<circle cx="128.20" cy="621.20" r="2.0"/>
<circle cx="135.00" cy="622.80" r="2.0"/>
<circle cx="141.30" cy="626.10" r="2.0"/>
<circle cx="146.30" cy="630.00" r="2.0"/>
<circle cx="151.00" cy="634.00" r="2.0"/>
<circle cx="159.80" cy="643.20" r="2.0"/>
<circle cx="169.50" cy="647.70" r="2.0"/>
<circle cx="177.90" cy="647.70" r="2.0"/>
<circle cx="193.90" cy="647.70" r="2.0"/>
<circle cx="209.30" cy="650.50" r="2.0"/>
<circle cx="220.60" cy="656.60" r="2.0"/>
<circle cx="234.20" cy="666.30" r="2.0"/>
<circle cx="244.00" cy="669.70" r="2.0"/>
<circle cx="259.80" cy="668.00" r="2.0"/>
<circle cx="274.00" cy="663.90" r="2.0"/>
<path d="M37.60,436.70 C37.77,443.92 38.22,466.75 38.60,480.00 C38.98,493.25 39.35,503.62 39.90,516.20 C40.45,528.78 41.13,545.67 41.90,555.50 C42.67,565.33 43.42,569.73 44.50,575.20 C45.58,580.67 46.87,584.25 48.40,588.30 C49.93,592.35 52.10,596.85 53.70,599.50 C55.30,602.15 56.25,602.60 58.00,604.20 C59.75,605.80 62.40,607.38 64.20,609.10 C66.00,610.82 67.28,612.72 68.80,614.50 C70.32,616.28 71.90,617.90 73.30,619.80 C74.70,621.70 75.80,623.35 77.20,625.90 C78.60,628.45 80.32,632.33 81.70,635.10 C83.08,637.87 84.45,639.68 85.50,642.50 C86.55,645.32 87.08,648.42 88.00,652.00 C88.92,655.58 90.17,660.50 91.00,664.00 C91.83,667.50 92.33,670.30 93.00,673.00 C93.67,675.70 94.28,680.12 95.00,680.20 C95.72,680.28 96.48,675.53 97.30,673.50 C98.12,671.47 98.95,669.75 99.90,668.00 C100.85,666.25 101.98,664.42 103.00,663.00 C104.02,661.58 104.92,660.50 106.00,659.50 C107.08,658.50 108.28,657.72 109.50,657.00 C110.72,656.28 111.65,655.60 113.30,655.20 C114.95,654.80 117.62,654.48 119.40,654.60 C121.18,654.72 122.32,654.78 124.00,655.90 C125.68,657.02 127.83,659.45 129.50,661.30 C131.17,663.15 132.37,664.72 134.00,667.00 C135.63,669.28 137.45,671.75 139.30,675.00 C141.15,678.25 143.65,683.50 145.10,686.50 C146.55,689.50 147.10,691.03 148.00,693.00 C148.90,694.97 149.67,697.63 150.50,698.30 C151.33,698.97 151.95,697.80 153.00,697.00 C154.05,696.20 155.35,695.17 156.80,693.50 C158.25,691.83 160.17,688.58 161.70,687.00 C163.23,685.42 164.62,684.70 166.00,684.00 C167.38,683.30 168.50,683.05 170.00,682.80 C171.50,682.55 173.05,682.10 175.00,682.50 C176.95,682.90 179.28,683.75 181.70,685.20 C184.12,686.65 186.90,688.25 189.50,691.20 C192.10,694.15 194.87,699.32 197.30,702.90 C199.73,706.48 201.82,710.10 204.10,712.70 C206.38,715.30 208.55,718.02 211.00,718.50 C213.45,718.98 216.20,716.73 218.80,715.60 C221.40,714.47 224.07,712.80 226.60,711.70 C229.13,710.60 231.80,709.57 234.00,709.00 C236.20,708.43 237.80,708.30 239.80,708.30 C241.80,708.30 243.73,708.52 246.00,709.00 C248.27,709.48 250.22,709.70 253.40,711.20 C256.58,712.70 261.20,715.40 265.10,718.00 C269.00,720.60 273.82,724.75 276.80,726.80 C279.78,728.85 281.13,729.85 283.00,730.30 C284.87,730.75 286.13,730.20 288.00,729.50 C289.87,728.80 291.18,727.80 294.20,726.10 C297.22,724.40 302.68,720.95 306.10,719.30 C309.52,717.65 311.67,716.92 314.70,716.20 C317.73,715.48 322.70,715.20 324.30,715.00" fill="none" stroke="#303030" stroke-width="1.0" clip-path="url(#cb)"/>
<path d="M85.50,642.00 C86.00,643.33 87.33,647.83 88.50,650.00 C89.67,652.17 91.02,653.83 92.50,655.00 C93.98,656.17 95.77,656.97 97.40,657.00 C99.03,657.03 100.47,656.00 102.30,655.20 C104.13,654.40 106.57,652.90 108.40,652.20 C110.23,651.50 111.08,650.75 113.30,651.00 C115.52,651.25 119.42,652.70 121.70,653.70 C123.98,654.70 125.05,655.70 127.00,657.00 C128.95,658.30 130.70,659.13 133.40,661.50 C136.10,663.87 140.27,667.95 143.20,671.20 C146.13,674.45 148.73,678.45 151.00,681.00 C153.27,683.55 154.53,685.85 156.80,686.50 C159.07,687.15 162.40,685.40 164.60,684.90 C166.80,684.40 168.10,683.73 170.00,683.50 C171.90,683.27 172.75,682.53 176.00,683.50 C179.25,684.47 185.30,686.72 189.50,689.30 C193.70,691.88 197.62,695.75 201.20,699.00 C204.78,702.25 208.07,706.35 211.00,708.80 C213.93,711.25 215.88,713.05 218.80,713.70 C221.72,714.35 225.80,712.98 228.50,712.70 C231.20,712.42 232.80,712.08 235.00,712.00 C237.20,711.92 239.20,711.95 241.70,712.20 C244.20,712.45 247.07,712.85 250.00,713.50 C252.93,714.15 255.48,714.53 259.30,716.10 C263.12,717.67 269.33,720.33 272.90,722.90 C276.47,725.47 278.00,728.90 280.70,731.50 C283.40,734.10 286.88,737.58 289.10,738.50 C291.32,739.42 292.30,737.93 294.00,737.00 C295.70,736.07 296.70,735.00 299.30,732.90 C301.90,730.80 305.90,726.45 309.60,724.40 C313.30,722.35 319.05,721.28 321.50,720.60 C323.95,719.92 323.83,720.35 324.30,720.30" fill="none" stroke="#303030" stroke-width="1.0" stroke-dasharray="3.2,2.2" clip-path="url(#cb)"/>
<circle cx="68.20" cy="613.40" r="2.0"/>
<circle cx="81.90" cy="632.40" r="2.0"/>
<circle cx="88.80" cy="647.50" r="2.0"/>
<circle cx="96.40" cy="654.00" r="2.0"/>
<circle cx="105.80" cy="648.70" r="2.0"/>
<circle cx="116.70" cy="649.20" r="2.0"/>
<circle cx="126.60" cy="655.30" r="2.0"/>
<circle cx="133.40" cy="662.40" r="2.0"/>
<circle cx="144.10" cy="673.20" r="2.0"/>
<circle cx="151.00" cy="676.70" r="2.0"/>
<circle cx="161.10" cy="680.00" r="2.0"/>
<circle cx="168.10" cy="680.00" r="2.0"/>
<circle cx="174.90" cy="680.50" r="2.0"/>
<circle cx="187.20" cy="686.30" r="2.0"/>
<circle cx="196.30" cy="691.20" r="2.0"/>
<circle cx="202.80" cy="698.00" r="2.0"/>
<circle cx="216.80" cy="704.50" r="2.0"/>
<circle cx="223.70" cy="706.80" r="2.0"/>
<circle cx="235.90" cy="709.70" r="2.0"/>
<circle cx="244.60" cy="710.80" r="2.0"/>
<circle cx="251.90" cy="713.60" r="2.0"/>
<circle cx="265.50" cy="711.60" r="2.0"/>
<circle cx="272.70" cy="711.40" r="2.0"/>
<circle cx="282.70" cy="711.20" r="2.0"/>
<circle cx="290.30" cy="712.80" r="2.0"/>
<circle cx="298.50" cy="715.90" r="2.0"/>
<circle cx="307.00" cy="721.30" r="2.0"/>
<path d="M37.20,436.70 C37.55,455.58 38.75,524.45 39.30,550.00 C39.85,575.55 40.13,580.83 40.50,590.00 C40.87,599.17 41.10,600.80 41.50,605.00 C41.90,609.20 42.03,611.72 42.90,615.20 C43.77,618.68 45.32,623.35 46.70,625.90 C48.08,628.45 49.65,629.07 51.20,630.50 C52.75,631.93 54.47,633.23 56.00,634.50 C57.53,635.77 58.65,636.23 60.40,638.10 C62.15,639.97 64.72,642.40 66.50,645.70 C68.28,649.00 69.58,653.58 71.10,657.90 C72.62,662.22 74.08,667.02 75.60,671.60 C77.12,676.18 79.05,681.17 80.20,685.40 C81.35,689.63 81.77,693.10 82.50,697.00 C83.23,700.90 83.88,708.13 84.60,708.80 C85.32,709.47 86.05,703.17 86.80,701.00 C87.55,698.83 87.95,697.93 89.10,695.80 C90.25,693.67 92.22,689.87 93.70,688.20 C95.18,686.53 96.53,686.23 98.00,685.80 C99.47,685.37 100.67,684.70 102.50,685.60 C104.33,686.50 106.92,688.73 109.00,691.20 C111.08,693.67 113.50,697.35 115.00,700.40 C116.50,703.45 116.95,706.33 118.00,709.50 C119.05,712.67 120.33,716.57 121.30,719.40 C122.27,722.23 122.98,724.60 123.80,726.50 C124.62,728.40 125.25,730.47 126.20,730.80 C127.15,731.13 128.12,729.85 129.50,728.50 C130.88,727.15 132.57,724.18 134.50,722.70 C136.43,721.22 138.90,719.87 141.10,719.60 C143.30,719.33 145.78,720.17 147.70,721.10 C149.62,722.03 151.23,723.28 152.60,725.20 C153.97,727.12 154.53,729.72 155.90,732.60 C157.27,735.48 159.50,740.02 160.80,742.50 C162.10,744.98 162.45,745.25 163.70,747.50 C164.95,749.75 166.90,754.42 168.30,756.00 C169.70,757.58 170.70,757.63 172.10,757.00 C173.50,756.37 175.05,753.77 176.70,752.20 C178.35,750.63 180.10,748.62 182.00,747.60 C183.90,746.58 186.07,746.10 188.10,746.10 C190.13,746.10 192.22,746.72 194.20,747.60 C196.18,748.48 197.83,749.82 200.00,751.40 C202.17,752.98 205.02,754.85 207.20,757.10 C209.38,759.35 211.15,761.92 213.10,764.90 C215.05,767.88 217.47,771.65 218.90,775.00 C220.33,778.35 220.58,782.65 221.70,785.00 C222.82,787.35 223.97,789.23 225.60,789.10 C227.23,788.97 229.22,785.67 231.50,784.20 C233.78,782.73 236.70,781.12 239.30,780.30 C241.90,779.48 244.50,778.98 247.10,779.30 C249.70,779.62 252.30,780.25 254.90,782.20 C257.50,784.15 260.43,787.90 262.70,791.00 C264.97,794.10 266.62,797.70 268.50,800.80 C270.38,803.90 272.50,807.07 274.00,809.60 C275.50,812.13 276.92,814.93 277.50,816.00" fill="none" stroke="#303030" stroke-width="1.0" clip-path="url(#cb)"/>
<path d="M286.50,816.00 C286.83,815.17 287.37,812.85 288.50,811.00 C289.63,809.15 290.88,807.22 293.30,804.90 C295.72,802.58 299.75,799.12 303.00,797.10 C306.25,795.08 309.25,793.78 312.80,792.80 C316.35,791.82 322.38,791.47 324.30,791.20" fill="none" stroke="#303030" stroke-width="1.0" clip-path="url(#cb)"/>
<path d="M79.90,680.00 C80.25,681.00 81.15,684.42 82.00,686.00 C82.85,687.58 84.00,688.75 85.00,689.50 C86.00,690.25 86.80,690.50 88.00,690.50 C89.20,690.50 90.87,690.00 92.20,689.50 C93.53,689.00 94.73,687.97 96.00,687.50 C97.27,687.03 98.30,686.45 99.80,686.70 C101.30,686.95 103.22,687.98 105.00,689.00 C106.78,690.02 108.83,691.38 110.50,692.80 C112.17,694.22 113.48,695.73 115.00,697.50 C116.52,699.27 118.00,701.12 119.60,703.40 C121.20,705.68 123.12,708.68 124.60,711.20 C126.08,713.72 127.13,716.28 128.50,718.50 C129.87,720.72 131.38,723.28 132.80,724.50 C134.22,725.72 135.35,725.55 137.00,725.80 C138.65,726.05 140.37,725.97 142.70,726.00 C145.03,726.03 148.80,725.58 151.00,726.00 C153.20,726.42 154.27,726.85 155.90,728.50 C157.53,730.15 159.45,734.07 160.80,735.90 C162.15,737.73 162.75,738.18 164.00,739.50 C165.25,740.82 166.57,741.55 168.30,743.80 C170.03,746.05 172.37,750.72 174.40,753.00 C176.43,755.28 178.22,756.62 180.50,757.50 C182.78,758.38 185.57,758.30 188.10,758.30 C190.63,758.30 193.72,757.72 195.70,757.50 C197.68,757.28 198.40,756.42 200.00,757.00 C201.60,757.58 203.12,759.37 205.30,761.00 C207.48,762.63 210.68,764.07 213.10,766.80 C215.52,769.53 217.85,774.37 219.80,777.40 C221.75,780.43 223.18,782.40 224.80,785.00 C226.42,787.60 227.97,790.75 229.50,793.00 C231.03,795.25 232.53,796.95 234.00,798.50 C235.47,800.05 236.80,801.88 238.30,802.30 C239.80,802.72 241.53,801.58 243.00,801.00 C244.47,800.42 244.80,799.82 247.10,798.80 C249.40,797.78 253.88,795.62 256.80,794.90 C259.72,794.18 262.40,794.15 264.60,794.50 C266.80,794.85 268.15,796.08 270.00,797.00 C271.85,797.92 273.77,798.37 275.70,800.00 C277.63,801.63 279.82,804.68 281.60,806.80 C283.38,808.92 285.25,811.17 286.40,812.70 C287.55,814.23 288.15,815.45 288.50,816.00" fill="none" stroke="#303030" stroke-width="1.0" stroke-dasharray="3.2,2.2" clip-path="url(#cb)"/>
<circle cx="68.80" cy="647.80" r="2.0"/>
<circle cx="72.10" cy="654.00" r="2.0"/>
<circle cx="75.60" cy="660.50" r="2.0"/>
<circle cx="79.10" cy="670.20" r="2.0"/>
<circle cx="83.30" cy="682.90" r="2.0"/>
<circle cx="85.30" cy="684.40" r="2.0"/>
<circle cx="89.10" cy="686.40" r="2.0"/>
<circle cx="92.50" cy="687.40" r="2.0"/>
<circle cx="98.60" cy="685.50" r="2.0"/>
<circle cx="102.60" cy="685.50" r="2.0"/>
<circle cx="105.90" cy="687.90" r="2.0"/>
<circle cx="112.00" cy="691.20" r="2.0"/>
<circle cx="115.40" cy="695.80" r="2.0"/>
<circle cx="118.90" cy="700.10" r="2.0"/>
<circle cx="121.90" cy="703.40" r="2.0"/>
<circle cx="125.20" cy="708.60" r="2.0"/>
<circle cx="128.30" cy="710.50" r="2.0"/>
<circle cx="131.70" cy="712.40" r="2.0"/>
<circle cx="134.60" cy="715.40" r="2.0"/>
<circle cx="137.60" cy="716.30" r="2.0"/>
<circle cx="140.50" cy="717.70" r="2.0"/>
<circle cx="143.40" cy="718.90" r="2.0"/>
<circle cx="146.30" cy="720.20" r="2.0"/>
<circle cx="149.30" cy="722.20" r="2.0"/>
<circle cx="151.60" cy="724.10" r="2.0"/>
<circle cx="154.50" cy="726.30" r="2.0"/>
<circle cx="157.30" cy="727.80" r="2.0"/>
<circle cx="161.40" cy="733.90" r="2.0"/>
<circle cx="164.50" cy="737.70" r="2.0"/>
<circle cx="167.50" cy="739.20" r="2.0"/>
<circle cx="169.60" cy="740.50" r="2.0"/>
<circle cx="172.10" cy="743.00" r="2.0"/>
<circle cx="174.60" cy="745.40" r="2.0"/>
<circle cx="177.10" cy="747.10" r="2.0"/>
<circle cx="179.50" cy="746.20" r="2.0"/>
<circle cx="181.20" cy="747.90" r="2.0"/>
<circle cx="183.70" cy="750.40" r="2.0"/>
<circle cx="186.10" cy="751.20" r="2.0"/>
<circle cx="188.60" cy="752.00" r="2.0"/>
<circle cx="191.10" cy="752.00" r="2.0"/>
<circle cx="192.70" cy="752.80" r="2.0"/>
<circle cx="196.00" cy="757.00" r="2.0"/>
<circle cx="198.50" cy="757.00" r="2.0"/>
<circle cx="201.00" cy="756.10" r="2.0"/>
<circle cx="203.40" cy="755.30" r="2.0"/>
<circle cx="205.90" cy="756.10" r="2.0"/>
<circle cx="208.40" cy="758.60" r="2.0"/>
<circle cx="210.00" cy="759.40" r="2.0"/>
<circle cx="212.50" cy="761.10" r="2.0"/>
<circle cx="215.00" cy="762.70" r="2.0"/>
<circle cx="215.80" cy="764.40" r="2.0"/>
<circle cx="218.20" cy="768.50" r="2.0"/>
<circle cx="219.10" cy="770.10" r="2.0"/>
<path d="M36.48,434.70 C36.49,436.96 36.50,443.74 36.51,448.26 C36.52,452.79 36.53,457.31 36.54,461.83 C36.55,466.35 36.57,470.87 36.58,475.39 C36.60,479.92 36.62,484.44 36.64,488.96 C36.66,493.48 36.69,498.00 36.71,502.52 C36.74,507.04 36.77,511.57 36.81,516.09 C36.85,520.61 36.89,525.13 36.94,529.65 C36.98,534.17 37.04,538.69 37.10,543.22 C37.16,547.74 37.23,552.26 37.32,556.78 C37.40,561.30 37.49,565.82 37.60,570.34 C37.71,574.87 37.82,579.39 37.97,583.91 C38.11,588.43 38.26,592.95 38.45,597.47 C38.63,601.99 38.84,606.52 39.08,611.04 C39.32,615.56 39.43,619.29 39.90,624.60 C40.37,629.91 41.25,637.67 41.90,642.90 C42.55,648.13 43.12,653.10 43.80,656.00 C44.48,658.90 44.97,659.13 46.00,660.30 C47.03,661.47 48.42,661.83 50.00,663.00 C51.58,664.17 53.77,665.60 55.50,667.30 C57.23,669.00 58.90,670.83 60.40,673.20 C61.90,675.57 63.38,679.20 64.50,681.50 C65.62,683.80 66.27,683.83 67.10,687.00 C67.93,690.17 68.72,696.25 69.50,700.50 C70.28,704.75 71.05,708.75 71.80,712.50 C72.55,716.25 73.33,719.92 74.00,723.00 C74.67,726.08 75.27,728.75 75.80,731.00 C76.33,733.25 76.85,735.45 77.20,736.50 C77.55,737.55 77.60,737.80 77.90,737.30 C78.20,736.80 78.32,735.68 79.00,733.50 C79.68,731.32 80.92,726.40 82.00,724.20 C83.08,722.00 84.28,721.13 85.50,720.30 C86.72,719.47 87.88,719.00 89.30,719.20 C90.72,719.40 92.22,719.85 94.00,721.50 C95.78,723.15 98.32,726.38 100.00,729.10 C101.68,731.82 102.60,734.07 104.10,737.80 C105.60,741.53 107.60,748.05 109.00,751.50 C110.40,754.95 111.52,756.88 112.50,758.50 C113.48,760.12 113.98,760.95 114.90,761.20 C115.82,761.45 117.03,760.32 118.00,760.00 C118.97,759.68 119.53,759.60 120.70,759.30 C121.87,759.00 123.48,758.42 125.00,758.20 C126.52,757.98 128.47,757.62 129.80,758.00 C131.13,758.38 132.03,759.53 133.00,760.50 C133.97,761.47 134.18,761.30 135.60,763.80 C137.02,766.30 139.55,772.13 141.50,775.50 C143.45,778.87 145.03,782.53 147.30,784.00 C149.57,785.47 152.50,784.08 155.10,784.30 C157.70,784.52 160.30,784.00 162.90,785.30 C165.50,786.60 168.10,789.18 170.70,792.10 C173.30,795.02 176.28,799.38 178.50,802.80 C180.72,806.22 182.80,810.40 184.00,812.60 C185.20,814.80 185.42,815.43 185.70,816.00" fill="none" stroke="#303030" stroke-width="1.0" clip-path="url(#cb)"/>
<path d="M67.10,687.00 C67.40,687.42 67.88,686.43 68.90,689.50 C69.92,692.57 72.15,701.65 73.20,705.40 C74.25,709.15 74.35,708.87 75.20,712.00 C76.05,715.13 77.48,721.15 78.30,724.20 C79.12,727.25 79.48,729.08 80.10,730.30 C80.72,731.52 81.02,731.72 82.00,731.50 C82.98,731.28 84.58,729.60 86.00,729.00 C87.42,728.40 89.00,727.93 90.50,727.90 C92.00,727.87 93.42,728.20 95.00,728.80 C96.58,729.40 98.83,730.63 100.00,731.50 C101.17,732.37 100.98,732.62 102.00,734.00 C103.02,735.38 104.60,737.53 106.10,739.80 C107.60,742.07 109.68,745.15 111.00,747.60 C112.32,750.05 113.03,752.40 114.00,754.50 C114.97,756.60 115.80,758.70 116.80,760.20 C117.80,761.70 118.70,762.78 120.00,763.50 C121.30,764.22 122.65,763.80 124.60,764.50 C126.55,765.20 130.13,766.87 131.70,767.70 C133.27,768.53 132.70,768.20 134.00,769.50 C135.30,770.80 136.95,772.55 139.50,775.50 C142.05,778.45 146.05,783.62 149.30,787.20 C152.55,790.78 155.75,794.40 159.00,797.00 C162.25,799.60 165.55,801.18 168.80,802.80 C172.05,804.42 175.97,805.72 178.50,806.70 C181.03,807.68 181.75,808.07 184.00,808.70 C186.25,809.33 189.33,810.03 192.00,810.50 C194.67,810.97 197.00,811.00 200.00,811.50 C203.00,812.00 207.00,812.75 210.00,813.50 C213.00,814.25 216.67,815.58 218.00,816.00" fill="none" stroke="#303030" stroke-width="1.0" stroke-dasharray="3.2,2.2" clip-path="url(#cb)"/>
<circle cx="39.80" cy="624.40" r="2.0"/>
<circle cx="40.60" cy="635.00" r="2.0"/>
<circle cx="41.80" cy="644.20" r="2.0"/>
<circle cx="42.90" cy="650.30" r="2.0"/>
<circle cx="44.40" cy="657.20" r="2.0"/>
<circle cx="44.90" cy="658.50" r="2.0"/>
<circle cx="45.40" cy="659.70" r="2.0"/>
<circle cx="45.90" cy="661.00" r="2.0"/>
<circle cx="47.00" cy="661.80" r="2.0"/>
<circle cx="48.20" cy="662.50" r="2.0"/>
<circle cx="49.70" cy="663.20" r="2.0"/>
<circle cx="51.20" cy="664.00" r="2.0"/>
<circle cx="52.80" cy="665.10" r="2.0"/>
<circle cx="54.30" cy="666.30" r="2.0"/>
<circle cx="55.30" cy="667.30" r="2.0"/>
<circle cx="56.30" cy="668.40" r="2.0"/>
<circle cx="57.30" cy="669.40" r="2.0"/>
<circle cx="58.30" cy="670.70" r="2.0"/>
<circle cx="59.40" cy="671.90" r="2.0"/>
<circle cx="60.40" cy="673.20" r="2.0"/>
<circle cx="61.10" cy="674.70" r="2.0"/>
<circle cx="61.90" cy="676.20" r="2.0"/>
<circle cx="62.60" cy="677.80" r="2.0"/>
<circle cx="63.40" cy="679.30" r="2.0"/>
<circle cx="64.20" cy="680.60" r="2.0"/>
<circle cx="64.90" cy="681.80" r="2.0"/>
<circle cx="65.70" cy="683.10" r="2.0"/>
<circle cx="66.50" cy="684.90" r="2.0"/>
<circle cx="67.20" cy="686.60" r="2.0"/>
<path d="M36.46,434.70 C36.46,437.14 36.47,444.48 36.48,449.36 C36.49,454.25 36.50,459.14 36.51,464.03 C36.52,468.92 36.53,473.81 36.54,478.69 C36.56,483.58 36.57,488.47 36.59,493.36 C36.61,498.25 36.63,503.13 36.66,508.02 C36.68,512.91 36.71,517.80 36.74,522.69 C36.78,527.58 36.82,532.46 36.86,537.35 C36.91,542.24 36.96,547.13 37.02,552.02 C37.08,556.90 37.14,561.79 37.22,566.68 C37.30,571.57 37.39,576.46 37.50,581.34 C37.61,586.23 37.72,591.12 37.87,596.01 C38.01,600.90 38.17,605.79 38.36,610.67 C38.55,615.56 38.76,620.45 39.02,625.34 C39.28,630.22 39.49,634.31 39.90,640.00 C40.31,645.69 41.02,653.00 41.50,659.50 C41.98,666.00 42.25,674.12 42.80,679.00 C43.35,683.88 43.60,686.55 44.80,688.80 C46.00,691.05 48.32,690.97 50.00,692.50 C51.68,694.03 53.27,695.85 54.90,698.00 C56.53,700.15 58.42,703.07 59.80,705.40 C61.18,707.73 62.17,709.40 63.20,712.00 C64.23,714.60 65.12,718.00 66.00,721.00 C66.88,724.00 67.67,726.75 68.50,730.00 C69.33,733.25 70.17,737.00 71.00,740.50 C71.83,744.00 72.73,747.58 73.50,751.00 C74.27,754.42 75.05,758.33 75.60,761.00 C76.15,763.67 76.30,766.83 76.80,767.00 C77.30,767.17 77.98,763.67 78.60,762.00 C79.22,760.33 79.78,758.63 80.50,757.00 C81.22,755.37 81.90,753.45 82.90,752.20 C83.90,750.95 85.32,749.95 86.50,749.50 C87.68,749.05 88.58,749.00 90.00,749.50 C91.42,750.00 93.50,751.25 95.00,752.50 C96.50,753.75 97.72,755.25 99.00,757.00 C100.28,758.75 101.35,759.70 102.70,763.00 C104.05,766.30 105.72,773.35 107.10,776.80 C108.48,780.25 109.38,781.78 111.00,783.70 C112.62,785.62 115.30,787.45 116.80,788.30 C118.30,789.15 118.80,788.35 120.00,788.80 C121.20,789.25 122.37,790.13 124.00,791.00 C125.63,791.87 127.97,792.67 129.80,794.00 C131.63,795.33 133.38,797.20 135.00,799.00 C136.62,800.80 137.77,802.53 139.50,804.80 C141.23,807.07 144.07,810.73 145.40,812.60 C146.73,814.47 147.15,815.43 147.50,816.00" fill="none" stroke="#303030" stroke-width="1.0" clip-path="url(#cb)"/>
<path d="M42.80,679.00 C43.08,680.50 43.80,685.83 44.50,688.00 C45.20,690.17 46.08,690.75 47.00,692.00 C47.92,693.25 48.58,694.25 50.00,695.50 C51.42,696.75 53.60,697.20 55.50,699.50 C57.40,701.80 59.82,706.55 61.40,709.30 C62.98,712.05 63.90,713.88 65.00,716.00 C66.10,718.12 67.00,719.67 68.00,722.00 C69.00,724.33 70.00,727.00 71.00,730.00 C72.00,733.00 73.03,736.82 74.00,740.00 C74.97,743.18 75.97,746.43 76.80,749.10 C77.63,751.77 78.25,753.97 79.00,756.00 C79.75,758.03 80.30,760.72 81.30,761.30 C82.30,761.88 83.47,760.25 85.00,759.50 C86.53,758.75 88.67,756.88 90.50,756.80 C92.33,756.72 93.92,757.13 96.00,759.00 C98.08,760.87 100.67,764.50 103.00,768.00 C105.33,771.50 107.83,776.50 110.00,780.00 C112.17,783.50 114.33,786.67 116.00,789.00 C117.67,791.33 117.38,792.02 120.00,794.00 C122.62,795.98 128.45,798.62 131.70,800.90 C134.95,803.18 136.90,805.75 139.50,807.70 C142.10,809.65 145.38,811.22 147.30,812.60 C149.22,813.98 150.38,815.43 151.00,816.00" fill="none" stroke="#303030" stroke-width="1.0" stroke-dasharray="3.2,2.2" clip-path="url(#cb)"/>
<circle cx="67.90" cy="719.30" r="2.0"/>
<circle cx="68.70" cy="720.80" r="2.0"/>
<circle cx="69.50" cy="722.30" r="2.0"/>
<circle cx="70.20" cy="723.90" r="2.0"/>
<circle cx="71.00" cy="725.40" r="2.0"/>
<circle cx="71.90" cy="727.20" r="2.0"/>
<circle cx="72.80" cy="729.10" r="2.0"/>
<circle cx="73.20" cy="730.90" r="2.0"/>
<circle cx="73.60" cy="732.80" r="2.0"/>
<circle cx="74.00" cy="734.60" r="2.0"/>
<circle cx="74.60" cy="736.10" r="2.0"/>
<circle cx="75.20" cy="737.60" r="2.0"/>
<circle cx="76.20" cy="739.50" r="2.0"/>
<circle cx="77.10" cy="741.30" r="2.0"/>
<circle cx="78.00" cy="743.10" r="2.0"/>
<circle cx="78.90" cy="744.90" r="2.0"/>
<circle cx="79.70" cy="746.10" r="2.0"/>
<circle cx="80.50" cy="747.40" r="2.0"/>
<circle cx="81.30" cy="748.60" r="2.0"/>
<circle cx="82.80" cy="749.20" r="2.0"/>
<circle cx="84.40" cy="749.80" r="2.0"/>
<circle cx="86.20" cy="750.40" r="2.0"/>
<circle cx="88.00" cy="751.00" r="2.0"/>
<circle cx="89.20" cy="751.80" r="2.0"/>
<circle cx="90.50" cy="752.70" r="2.0"/>
<circle cx="91.70" cy="753.50" r="2.0"/>
<circle cx="92.90" cy="754.70" r="2.0"/>
<circle cx="94.20" cy="755.90" r="2.0"/>
<circle cx="95.40" cy="757.10" r="2.0"/>
<circle cx="96.90" cy="758.70" r="2.0"/>
<circle cx="98.40" cy="760.20" r="2.0"/>
<circle cx="101.50" cy="763.80" r="2.0"/>
<circle cx="104.40" cy="767.50" r="2.0"/>
<circle cx="107.40" cy="770.60" r="2.0"/>
<circle cx="109.70" cy="772.90" r="2.0"/>
<circle cx="111.20" cy="774.40" r="2.0"/>
<circle cx="114.30" cy="776.70" r="2.0"/>
<circle cx="117.30" cy="779.70" r="2.0"/>
<circle cx="118.90" cy="781.30" r="2.0"/>
<circle cx="121.20" cy="782.80" r="2.0"/>
<circle cx="123.40" cy="783.50" r="2.0"/>
<circle cx="125.00" cy="784.30" r="2.0"/>
<circle cx="128.00" cy="790.40" r="2.0"/>
<circle cx="131.40" cy="793.40" r="2.0"/>
<circle cx="137.20" cy="800.30" r="2.0"/>
<circle cx="140.20" cy="806.10" r="2.0"/>
<text x="204.3" y="524.4" font-size="8.9" font-weight="bold">19.0 MeV</text>
<text x="204.5" y="559.5" font-size="8.9" font-weight="bold">21.0</text>
<text x="204.2" y="582.9" font-size="8.9" font-weight="bold">23.0</text>
<text x="203.3" y="619.5" font-size="8.9" font-weight="bold">25.0</text>
<text x="199.6" y="647.5" font-size="8.9" font-weight="bold">28.0</text>
<text x="192.4" y="689.3" font-size="8.9" font-weight="bold">35.2</text>
<text x="167.6" y="736.3" font-size="8.9" font-weight="bold">61.4</text>
<text x="152.2" y="783.3" font-size="8.9" font-weight="bold">92.9</text>
<text x="140.5" y="804.4" font-size="8.9" font-weight="bold">95.7</text>
</svg></body></html>
